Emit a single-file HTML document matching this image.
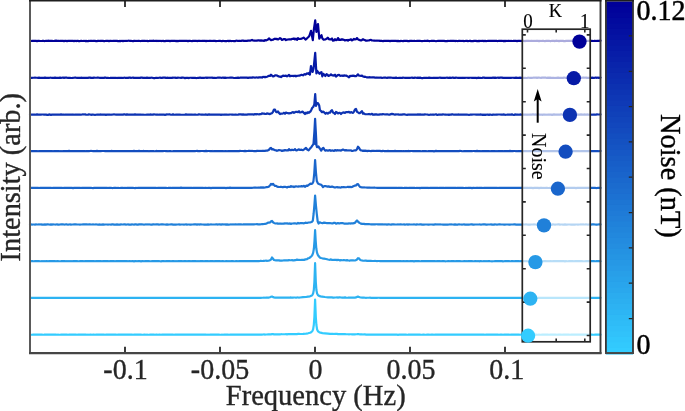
<!DOCTYPE html>
<html><head><meta charset="utf-8"><style>
html,body{margin:0;padding:0;background:#fff;width:685px;height:411px;overflow:hidden;font-family:"Liberation Serif",serif;}
svg{display:block;will-change:transform;}
</style></head><body><svg width="685" height="411" viewBox="0 0 685 411"><g fill="none" stroke-width="2.2" stroke-linejoin="round" stroke-linecap="round"><polyline points="30.0,40.95 31.0,40.99 32.0,40.92 33.0,40.84 34.0,40.90 35.0,40.83 36.0,40.96 37.0,41.11 38.0,40.89 39.0,40.88 40.0,41.01 41.0,40.99 42.0,40.96 43.0,40.84 44.0,40.95 45.0,41.03 46.0,40.79 47.0,40.89 48.0,40.72 49.0,40.80 50.0,40.73 51.0,40.92 52.0,40.80 53.0,40.98 54.0,40.97 55.0,40.93 56.0,40.65 57.0,40.89 58.0,40.94 59.0,40.96 60.0,40.77 61.0,40.89 62.0,40.83 63.0,40.85 64.0,41.08 65.0,40.85 66.0,40.95 67.0,41.06 68.0,40.88 69.0,40.94 70.0,40.96 71.0,40.96 72.0,40.80 73.0,40.96 74.0,41.11 75.0,40.76 76.0,41.05 77.0,40.96 78.0,40.87 79.0,41.19 80.0,41.04 81.0,40.81 82.0,40.96 83.0,41.02 84.0,40.93 85.0,41.03 86.0,40.94 87.0,41.03 88.0,41.12 89.0,40.87 90.0,40.97 91.0,40.89 92.0,40.97 93.0,40.81 94.0,40.88 95.0,40.93 96.0,41.06 97.0,41.09 98.0,40.79 99.0,40.85 100.0,41.03 101.0,40.71 102.0,40.89 103.0,40.94 104.0,41.10 105.0,41.03 106.0,40.91 107.0,40.91 108.0,40.92 109.0,41.13 110.0,40.90 111.0,40.91 112.0,40.99 113.0,40.94 114.0,40.93 115.0,40.82 116.0,40.95 117.0,40.90 118.0,41.09 119.0,41.03 120.0,40.95 121.0,41.03 122.0,40.91 123.0,41.08 124.0,40.95 125.0,41.02 126.0,40.79 127.0,40.99 128.0,40.75 129.0,40.71 130.0,40.91 131.0,40.84 132.0,40.97 133.0,41.22 134.0,40.85 135.0,40.87 136.0,40.97 137.0,41.01 138.0,40.93 139.0,40.92 140.0,41.03 141.0,41.01 142.0,40.83 143.0,40.94 144.0,40.95 145.0,40.82 146.0,40.98 147.0,40.85 148.0,41.07 149.0,40.97 150.0,40.96 151.0,40.88 152.0,40.94 153.0,40.71 154.0,40.81 155.0,40.99 156.0,40.69 157.0,41.05 158.0,40.74 159.0,41.04 160.0,40.85 161.0,41.04 162.0,40.97 163.0,40.76 164.0,41.10 165.0,41.12 166.0,40.94 167.0,40.92 168.0,40.93 169.0,40.83 170.0,41.08 171.0,40.88 172.0,40.94 173.0,40.85 174.0,40.87 175.0,40.80 176.0,41.10 177.0,40.93 178.0,41.07 179.0,40.95 180.0,40.87 181.0,40.91 182.0,40.88 183.0,40.95 184.0,40.90 185.0,40.91 186.0,40.78 187.0,40.85 188.0,41.15 189.0,40.87 190.0,40.82 191.0,40.99 192.0,41.12 193.0,40.77 194.0,40.92 195.0,40.87 196.0,40.74 197.0,41.04 198.0,40.95 199.0,40.96 200.0,40.86 201.0,41.00 202.0,40.88 203.0,40.93 204.0,40.81 205.0,40.80 206.0,41.11 207.0,40.89 208.0,40.98 209.0,40.94 210.0,40.89 211.0,40.88 212.0,41.02 213.0,40.91 214.0,40.93 215.0,40.95 216.0,41.09 217.0,41.02 218.0,40.99 219.0,40.87 220.0,40.77 221.0,41.05 222.0,41.05 223.0,40.92 224.0,41.00 225.0,41.03 226.0,41.03 227.0,41.04 228.0,40.87 229.0,41.11 230.0,40.77 231.0,41.03 232.0,40.98 233.0,41.02 234.0,41.14 235.0,41.09 236.0,40.76 237.0,40.68 238.0,41.00 239.0,40.76 240.0,40.88 241.0,40.98 242.0,40.65 243.0,40.58 244.0,40.88 245.0,40.84 246.0,40.79 247.0,40.81 248.0,40.66 249.0,40.52 250.0,40.64 251.0,40.33 252.0,39.91 253.0,40.52 254.0,40.60 255.0,40.71 256.0,40.49 257.0,40.53 258.0,40.45 259.0,40.45 260.0,40.62 261.0,40.40 262.0,40.59 263.0,40.55 264.0,40.87 265.0,40.06 266.0,40.48 267.0,40.05 268.0,39.55 269.0,38.33 270.0,39.33 271.0,40.07 272.0,39.88 273.0,39.77 274.0,39.11 275.0,38.65 276.0,39.12 277.0,38.83 278.0,39.47 279.0,38.91 280.0,38.11 281.0,38.78 282.0,39.96 283.0,39.59 284.0,39.05 285.0,39.13 286.0,40.13 287.0,39.60 288.0,39.48 289.0,39.35 290.0,39.28 291.0,39.45 292.0,38.87 293.0,39.02 294.0,38.40 295.0,39.46 296.0,38.63 297.0,39.85 298.0,38.13 299.0,38.91 300.0,39.00 301.8,38.60 303.6,37.60 305.5,39.60 307.0,38.30 308.2,37.20 309.3,36.00 311.0,30.80 312.8,40.10 313.8,30.00 315.2,20.30 316.4,32.00 318.0,24.00 319.3,38.60 320.3,37.00 321.5,35.20 322.4,38.50 323.6,39.60 325.5,39.40 327.0,38.50 327.8,37.70 329.0,39.20 330.0,39.40 331.0,39.42 332.0,38.50 333.0,40.70 334.0,40.53 335.0,39.24 336.0,40.09 337.0,39.86 338.0,38.04 339.0,39.85 340.0,39.70 341.0,39.82 342.0,39.22 343.0,39.70 344.0,39.78 345.0,40.49 346.0,40.10 347.0,39.97 348.0,40.66 349.0,39.77 350.0,39.85 351.0,39.26 352.0,40.42 353.0,39.73 354.0,38.92 355.0,39.45 356.0,39.19 357.0,38.05 358.0,39.33 359.0,39.93 360.0,40.16 361.0,40.52 362.0,39.96 363.0,39.25 364.0,39.77 365.0,40.15 366.0,40.77 367.0,40.59 368.0,40.52 369.0,40.39 370.0,40.04 371.0,39.86 372.0,40.45 373.0,40.49 374.0,40.62 375.0,40.67 376.0,40.76 377.0,40.51 378.0,40.74 379.0,40.67 380.0,40.94 381.0,40.71 382.0,40.91 383.0,41.06 384.0,40.81 385.0,40.78 386.0,40.89 387.0,40.88 388.0,40.75 389.0,40.95 390.0,41.15 391.0,40.87 392.0,40.88 393.0,40.78 394.0,40.95 395.0,40.76 396.0,40.78 397.0,41.08 398.0,40.81 399.0,41.06 400.0,41.11 401.0,40.96 402.0,41.00 403.0,41.17 404.0,40.91 405.0,40.87 406.0,40.77 407.0,40.94 408.0,41.12 409.0,41.06 410.0,40.83 411.0,40.84 412.0,40.88 413.0,40.98 414.0,40.92 415.0,40.97 416.0,40.98 417.0,40.91 418.0,40.94 419.0,40.97 420.0,40.94 421.0,41.01 422.0,41.17 423.0,41.02 424.0,40.95 425.0,40.75 426.0,40.99 427.0,40.71 428.0,40.78 429.0,41.05 430.0,41.03 431.0,40.93 432.0,40.74 433.0,40.90 434.0,40.87 435.0,41.03 436.0,41.22 437.0,40.97 438.0,40.86 439.0,40.81 440.0,40.94 441.0,40.93 442.0,40.81 443.0,40.96 444.0,40.81 445.0,41.08 446.0,41.08 447.0,41.08 448.0,40.89 449.0,41.01 450.0,40.93 451.0,40.90 452.0,40.91 453.0,40.79 454.0,40.78 455.0,41.04 456.0,40.93 457.0,40.98 458.0,41.07 459.0,40.74 460.0,40.86 461.0,40.97 462.0,41.00 463.0,40.90 464.0,41.07 465.0,40.97 466.0,40.80 467.0,40.84 468.0,41.05 469.0,41.01 470.0,40.72 471.0,41.11 472.0,41.02 473.0,41.11 474.0,40.90 475.0,40.91 476.0,40.81 477.0,41.25 478.0,40.93 479.0,41.14 480.0,40.87 481.0,40.97 482.0,40.75 483.0,40.90 484.0,41.07 485.0,40.80 486.0,41.08 487.0,40.99 488.0,40.82 489.0,40.89 490.0,40.89 491.0,40.94 492.0,40.89 493.0,40.85 494.0,40.91 495.0,40.83 496.0,40.79 497.0,40.94 498.0,41.06 499.0,40.77 500.0,40.95 501.0,40.87 502.0,40.83 503.0,41.05 504.0,40.89 505.0,41.13 506.0,40.86 507.0,41.00 508.0,40.92 509.0,40.86 510.0,41.02 511.0,40.93 512.0,41.02 513.0,40.94 514.0,40.82 515.0,40.94 516.0,40.96 517.0,41.06 518.0,40.84 519.0,40.94 520.0,40.74 521.0,41.03 522.0,40.82 523.0,40.73 524.0,40.94 525.0,41.08 526.0,40.77 527.0,40.82 528.0,40.86 529.0,40.81 530.0,41.00 531.0,40.85 532.0,40.86 533.0,41.02 534.0,40.86 535.0,41.00 536.0,40.83 537.0,40.80 538.0,40.73 539.0,41.17 540.0,40.91 541.0,40.98 542.0,40.95 543.0,40.97 544.0,40.96 545.0,41.18 546.0,40.83 547.0,40.76 548.0,40.83 549.0,40.79 550.0,41.04 551.0,41.05 552.0,40.83 553.0,40.78 554.0,40.91 555.0,41.12 556.0,40.61 557.0,41.01 558.0,40.82 559.0,41.07 560.0,40.82 561.0,40.92 562.0,40.77 563.0,40.83 564.0,41.12 565.0,41.05 566.0,40.90 567.0,40.85 568.0,40.72 569.0,40.90 570.0,40.95 571.0,40.94 572.0,40.94 573.0,40.82 574.0,40.94 575.0,40.95 576.0,41.10 577.0,41.17 578.0,40.93 579.0,40.86 580.0,40.94 581.0,40.88 582.0,40.86 583.0,40.94 584.0,40.82 585.0,41.02 586.0,40.94 587.0,40.98 588.0,40.93 589.0,40.86 590.0,40.84 591.0,40.92 592.0,40.88 593.0,40.98 594.0,40.95 595.0,40.79 596.0,40.96 597.0,40.79 598.0,40.88 599.0,40.91 600.5,40.70" stroke="#000099"/><polyline points="30.0,77.81 31.0,77.82 32.0,77.78 33.0,77.75 34.0,77.76 35.0,77.68 36.0,77.77 37.0,77.73 38.0,77.81 39.0,77.66 40.0,77.83 41.0,77.82 42.0,77.78 43.0,77.75 44.0,77.87 45.0,77.60 46.0,77.86 47.0,77.83 48.0,77.83 49.0,77.85 50.0,77.72 51.0,77.77 52.0,77.88 53.0,77.85 54.0,77.82 55.0,77.62 56.0,77.86 57.0,77.94 58.0,77.92 59.0,77.83 60.0,77.61 61.0,77.91 62.0,77.78 63.0,77.50 64.0,77.85 65.0,77.62 66.0,77.64 67.0,77.72 68.0,77.95 69.0,77.76 70.0,77.83 71.0,78.01 72.0,77.99 73.0,77.79 74.0,77.77 75.0,77.65 76.0,77.72 77.0,77.85 78.0,77.85 79.0,77.81 80.0,77.92 81.0,77.71 82.0,77.79 83.0,77.89 84.0,77.87 85.0,77.93 86.0,77.85 87.0,77.76 88.0,77.84 89.0,77.68 90.0,77.60 91.0,77.87 92.0,77.79 93.0,77.84 94.0,77.60 95.0,77.76 96.0,77.73 97.0,77.70 98.0,77.53 99.0,77.76 100.0,77.91 101.0,77.85 102.0,77.73 103.0,77.80 104.0,77.89 105.0,77.47 106.0,77.78 107.0,77.86 108.0,77.88 109.0,78.00 110.0,77.94 111.0,77.84 112.0,77.84 113.0,77.89 114.0,77.74 115.0,77.79 116.0,77.91 117.0,78.03 118.0,77.78 119.0,77.79 120.0,77.82 121.0,77.96 122.0,77.80 123.0,77.98 124.0,77.68 125.0,77.78 126.0,77.78 127.0,77.89 128.0,77.93 129.0,77.62 130.0,77.69 131.0,77.84 132.0,77.72 133.0,77.62 134.0,77.92 135.0,77.86 136.0,77.86 137.0,77.74 138.0,77.92 139.0,77.77 140.0,77.93 141.0,77.69 142.0,77.70 143.0,77.82 144.0,77.72 145.0,77.88 146.0,77.83 147.0,77.69 148.0,77.81 149.0,77.76 150.0,77.91 151.0,77.72 152.0,77.75 153.0,77.94 154.0,78.07 155.0,78.04 156.0,77.81 157.0,77.83 158.0,77.98 159.0,77.78 160.0,77.68 161.0,77.81 162.0,77.85 163.0,77.70 164.0,77.60 165.0,77.63 166.0,77.88 167.0,77.71 168.0,77.78 169.0,77.82 170.0,77.87 171.0,77.76 172.0,77.86 173.0,77.69 174.0,77.76 175.0,77.68 176.0,77.94 177.0,77.80 178.0,77.71 179.0,77.76 180.0,77.77 181.0,77.88 182.0,77.61 183.0,77.67 184.0,77.75 185.0,78.10 186.0,77.91 187.0,77.79 188.0,77.88 189.0,78.05 190.0,77.77 191.0,77.76 192.0,77.94 193.0,77.86 194.0,77.88 195.0,77.74 196.0,78.03 197.0,78.00 198.0,77.87 199.0,77.88 200.0,77.56 201.0,77.87 202.0,77.77 203.0,77.85 204.0,77.88 205.0,77.76 206.0,77.59 207.0,77.84 208.0,77.71 209.0,77.76 210.0,77.72 211.0,77.75 212.0,77.52 213.0,77.94 214.0,77.82 215.0,77.93 216.0,78.03 217.0,77.79 218.0,77.57 219.0,77.68 220.0,77.64 221.0,77.73 222.0,77.80 223.0,77.54 224.0,77.83 225.0,77.60 226.0,77.82 227.0,77.76 228.0,77.74 229.0,77.76 230.0,77.70 231.0,77.69 232.0,77.56 233.0,77.76 234.0,77.98 235.0,78.00 236.0,77.91 237.0,77.83 238.0,77.65 239.0,77.91 240.0,77.71 241.0,77.70 242.0,77.66 243.0,77.70 244.0,77.63 245.0,77.66 246.0,77.51 247.0,77.60 248.0,77.95 249.0,77.61 250.0,77.57 251.0,77.66 252.0,77.67 253.0,77.38 254.0,77.49 255.0,77.65 256.0,77.52 257.0,77.47 258.0,77.69 259.0,77.28 260.0,77.38 261.0,77.23 262.0,77.57 263.0,76.84 264.0,77.03 265.0,76.96 266.0,77.06 267.0,76.67 268.0,76.23 269.0,75.77 270.0,76.00 271.0,74.77 272.0,75.63 273.0,76.50 274.0,76.11 275.0,75.42 276.0,75.34 277.0,75.53 278.0,76.13 279.0,76.56 280.0,76.55 281.0,77.02 282.0,76.28 283.0,75.67 284.0,75.93 285.0,75.80 286.0,75.59 287.0,76.31 288.0,75.72 289.0,74.96 290.0,76.30 291.0,75.81 292.0,76.01 293.0,75.82 294.0,76.08 295.0,75.67 296.0,76.37 297.0,75.81 298.0,75.75 299.0,75.72 300.0,75.40 301.5,74.80 303.0,75.30 304.5,74.20 305.5,74.60 307.0,73.40 308.3,73.80 309.0,73.00 309.9,74.60 311.0,66.00 312.6,72.00 313.6,68.50 315.2,52.80 316.4,73.40 317.2,70.80 318.4,72.60 319.5,73.80 320.5,72.60 321.5,72.20 322.3,76.30 323.3,73.80 324.2,74.50 325.4,76.00 326.5,74.20 327.5,74.80 328.5,76.00 330.0,75.30 331.0,74.36 332.0,75.28 333.0,75.27 334.0,75.62 335.0,74.71 336.0,76.58 337.0,75.72 338.0,75.03 339.0,74.83 340.0,75.67 341.0,75.81 342.0,75.53 343.0,75.91 344.0,75.38 345.0,75.59 346.0,75.48 347.0,76.07 348.0,76.61 349.0,77.28 350.0,75.93 351.0,76.09 352.0,75.71 353.0,75.80 354.0,75.68 355.0,76.16 356.0,76.22 357.0,75.37 358.0,74.34 359.0,75.58 360.0,75.77 361.0,75.86 362.0,75.65 363.0,76.47 364.0,76.82 365.0,76.66 366.0,77.04 367.0,77.36 368.0,77.36 369.0,77.29 370.0,77.18 371.0,77.49 372.0,77.31 373.0,77.24 374.0,77.34 375.0,77.72 376.0,77.55 377.0,77.71 378.0,77.49 379.0,77.71 380.0,77.51 381.0,77.59 382.0,77.97 383.0,77.75 384.0,77.59 385.0,77.65 386.0,77.72 387.0,77.85 388.0,77.63 389.0,77.48 390.0,77.68 391.0,77.72 392.0,77.74 393.0,77.90 394.0,77.78 395.0,77.85 396.0,77.62 397.0,77.86 398.0,78.02 399.0,77.86 400.0,77.80 401.0,77.79 402.0,77.99 403.0,77.66 404.0,77.77 405.0,77.84 406.0,77.87 407.0,77.73 408.0,77.82 409.0,77.75 410.0,77.80 411.0,77.77 412.0,77.65 413.0,77.79 414.0,77.90 415.0,77.68 416.0,77.77 417.0,77.87 418.0,77.67 419.0,77.82 420.0,77.67 421.0,77.93 422.0,78.07 423.0,78.04 424.0,77.77 425.0,77.89 426.0,77.81 427.0,77.81 428.0,77.98 429.0,77.64 430.0,77.92 431.0,77.79 432.0,77.97 433.0,77.82 434.0,77.72 435.0,77.83 436.0,77.89 437.0,77.80 438.0,77.86 439.0,77.74 440.0,77.54 441.0,77.91 442.0,77.88 443.0,77.82 444.0,77.81 445.0,77.92 446.0,77.74 447.0,77.71 448.0,77.78 449.0,77.94 450.0,77.63 451.0,77.94 452.0,77.72 453.0,77.67 454.0,77.95 455.0,77.79 456.0,77.64 457.0,77.76 458.0,77.91 459.0,77.94 460.0,77.75 461.0,77.85 462.0,77.89 463.0,77.72 464.0,77.84 465.0,77.80 466.0,77.74 467.0,77.74 468.0,77.81 469.0,77.80 470.0,77.73 471.0,77.75 472.0,77.93 473.0,77.83 474.0,77.91 475.0,77.94 476.0,77.87 477.0,78.07 478.0,77.70 479.0,77.90 480.0,77.76 481.0,78.02 482.0,78.00 483.0,77.57 484.0,77.68 485.0,77.88 486.0,77.89 487.0,77.89 488.0,77.79 489.0,77.85 490.0,77.88 491.0,77.79 492.0,77.92 493.0,77.53 494.0,77.88 495.0,77.68 496.0,77.91 497.0,77.77 498.0,77.69 499.0,77.84 500.0,77.69 501.0,77.69 502.0,77.61 503.0,77.80 504.0,77.86 505.0,77.92 506.0,77.78 507.0,77.93 508.0,77.80 509.0,77.79 510.0,77.87 511.0,77.93 512.0,77.76 513.0,77.77 514.0,77.78 515.0,77.81 516.0,77.69 517.0,77.92 518.0,77.75 519.0,77.86 520.0,77.70 521.0,77.84 522.0,77.85 523.0,77.75 524.0,78.04 525.0,77.84 526.0,78.01 527.0,77.91 528.0,77.72 529.0,77.75 530.0,77.85 531.0,77.81 532.0,77.81 533.0,77.77 534.0,77.58 535.0,77.77 536.0,77.53 537.0,77.84 538.0,77.71 539.0,77.71 540.0,77.77 541.0,77.83 542.0,77.63 543.0,77.59 544.0,77.67 545.0,77.55 546.0,77.68 547.0,77.99 548.0,77.67 549.0,77.88 550.0,77.64 551.0,77.84 552.0,77.76 553.0,77.79 554.0,77.87 555.0,78.01 556.0,77.82 557.0,77.81 558.0,77.68 559.0,77.87 560.0,77.77 561.0,77.90 562.0,77.79 563.0,78.01 564.0,77.56 565.0,77.76 566.0,77.91 567.0,77.76 568.0,77.70 569.0,77.77 570.0,77.63 571.0,77.81 572.0,78.09 573.0,77.94 574.0,77.67 575.0,77.70 576.0,77.75 577.0,77.92 578.0,77.70 579.0,77.72 580.0,77.91 581.0,77.90 582.0,77.75 583.0,77.67 584.0,77.61 585.0,77.72 586.0,77.53 587.0,77.89 588.0,77.72 589.0,77.86 590.0,78.02 591.0,77.94 592.0,77.66 593.0,77.90 594.0,77.94 595.0,77.71 596.0,77.69 597.0,77.79 598.0,77.61 599.0,77.98 600.5,77.51" stroke="#061aa6"/><polyline points="30.0,114.47 31.0,114.57 32.0,114.57 33.0,114.62 34.0,114.63 35.0,114.57 36.0,114.74 37.0,114.34 38.0,114.60 39.0,114.51 40.0,114.62 41.0,114.63 42.0,114.49 43.0,114.52 44.0,114.69 45.0,114.64 46.0,114.52 47.0,114.84 48.0,114.88 49.0,114.42 50.0,114.64 51.0,114.90 52.0,114.69 53.0,114.63 54.0,114.57 55.0,114.53 56.0,114.57 57.0,114.53 58.0,114.69 59.0,114.55 60.0,114.55 61.0,114.46 62.0,114.59 63.0,114.49 64.0,114.58 65.0,114.72 66.0,114.64 67.0,114.66 68.0,114.64 69.0,114.61 70.0,114.58 71.0,114.56 72.0,114.69 73.0,114.47 74.0,114.76 75.0,114.60 76.0,114.51 77.0,114.54 78.0,114.52 79.0,114.62 80.0,114.51 81.0,114.74 82.0,114.51 83.0,114.33 84.0,114.51 85.0,114.36 86.0,114.59 87.0,114.73 88.0,114.68 89.0,114.44 90.0,114.51 91.0,114.81 92.0,114.64 93.0,114.60 94.0,114.73 95.0,114.89 96.0,114.76 97.0,114.62 98.0,114.64 99.0,114.67 100.0,114.53 101.0,114.47 102.0,114.61 103.0,114.49 104.0,114.59 105.0,114.61 106.0,114.88 107.0,114.50 108.0,114.58 109.0,114.58 110.0,114.65 111.0,114.73 112.0,114.54 113.0,114.50 114.0,114.40 115.0,114.49 116.0,114.66 117.0,114.60 118.0,114.48 119.0,114.55 120.0,114.60 121.0,114.66 122.0,114.53 123.0,114.57 124.0,114.38 125.0,114.46 126.0,114.79 127.0,114.34 128.0,114.56 129.0,114.63 130.0,114.55 131.0,114.50 132.0,114.59 133.0,114.60 134.0,114.59 135.0,114.37 136.0,114.58 137.0,114.50 138.0,114.53 139.0,114.63 140.0,114.68 141.0,114.71 142.0,114.54 143.0,114.71 144.0,114.74 145.0,114.74 146.0,114.77 147.0,114.58 148.0,114.58 149.0,114.70 150.0,114.44 151.0,114.62 152.0,114.54 153.0,114.55 154.0,114.39 155.0,114.49 156.0,114.60 157.0,114.71 158.0,114.72 159.0,114.59 160.0,114.58 161.0,114.50 162.0,114.65 163.0,114.57 164.0,114.67 165.0,114.81 166.0,114.60 167.0,114.42 168.0,114.50 169.0,114.42 170.0,114.46 171.0,114.76 172.0,114.63 173.0,114.42 174.0,114.68 175.0,114.75 176.0,114.56 177.0,114.52 178.0,114.56 179.0,114.63 180.0,114.68 181.0,114.74 182.0,114.74 183.0,114.74 184.0,114.76 185.0,114.68 186.0,114.41 187.0,114.58 188.0,114.64 189.0,114.55 190.0,114.71 191.0,114.56 192.0,114.49 193.0,114.77 194.0,114.68 195.0,114.62 196.0,114.71 197.0,114.73 198.0,114.64 199.0,114.30 200.0,114.52 201.0,114.54 202.0,114.48 203.0,114.62 204.0,114.74 205.0,114.54 206.0,114.46 207.0,114.84 208.0,114.54 209.0,114.45 210.0,114.62 211.0,114.65 212.0,114.51 213.0,114.69 214.0,114.54 215.0,114.48 216.0,114.61 217.0,114.68 218.0,114.51 219.0,114.63 220.0,114.58 221.0,114.93 222.0,114.50 223.0,114.75 224.0,114.58 225.0,114.57 226.0,114.67 227.0,114.69 228.0,114.73 229.0,114.61 230.0,114.50 231.0,114.50 232.0,114.63 233.0,114.63 234.0,114.73 235.0,114.61 236.0,114.68 237.0,114.73 238.0,114.56 239.0,114.34 240.0,114.38 241.0,114.33 242.0,114.72 243.0,114.39 244.0,114.66 245.0,114.56 246.0,114.70 247.0,114.60 248.0,114.43 249.0,114.41 250.0,114.43 251.0,114.43 252.0,114.31 253.0,114.36 254.0,114.60 255.0,114.06 256.0,114.34 257.0,114.12 258.0,114.27 259.0,114.35 260.0,114.13 261.0,114.17 262.0,113.45 263.0,113.54 264.0,113.56 265.0,114.02 266.0,113.96 267.0,113.31 268.0,113.67 269.0,113.83 270.0,114.06 271.0,113.56 272.0,113.19 273.0,111.77 274.0,109.53 275.0,109.57 276.0,111.86 277.0,112.27 278.0,111.45 279.0,113.02 280.0,114.10 281.0,113.48 282.0,113.74 283.0,113.45 284.0,112.77 285.0,113.77 286.0,112.55 287.0,112.98 288.0,113.17 289.0,113.44 290.0,113.16 291.0,113.10 292.0,112.41 293.0,112.05 294.0,112.79 295.0,112.27 296.0,111.83 297.0,111.79 298.0,112.24 299.0,111.28 300.0,112.50 301.2,112.20 302.5,111.60 303.6,112.60 305.0,114.00 306.0,112.60 307.0,113.40 308.0,112.10 309.0,112.80 310.5,111.40 311.5,109.50 312.2,107.80 313.2,107.00 314.3,104.50 315.2,94.00 316.0,106.00 317.0,103.00 318.2,103.40 319.2,105.50 319.9,110.00 321.0,111.00 322.0,112.20 323.2,111.50 324.2,112.40 325.5,113.80 326.5,112.80 327.8,113.60 329.0,112.60 330.0,112.70 331.0,110.90 332.0,110.27 333.0,112.47 334.0,112.91 335.0,114.01 336.0,111.96 337.0,112.52 338.0,113.48 339.0,112.89 340.0,112.87 341.0,113.96 342.0,112.94 343.0,112.55 344.0,112.43 345.0,112.91 346.0,112.15 347.0,112.09 348.0,112.19 349.0,111.94 350.0,112.74 351.0,112.06 352.0,112.54 353.0,112.92 354.0,111.59 355.0,109.53 356.0,108.97 357.0,111.85 358.0,112.37 359.0,113.09 360.0,113.07 361.0,112.00 362.0,111.18 363.0,113.73 364.0,113.41 365.0,114.08 366.0,114.25 367.0,114.27 368.0,114.16 369.0,113.96 370.0,114.32 371.0,114.12 372.0,113.84 373.0,114.77 374.0,114.44 375.0,114.63 376.0,114.22 377.0,114.60 378.0,114.63 379.0,114.64 380.0,114.42 381.0,114.27 382.0,114.43 383.0,114.16 384.0,114.24 385.0,114.49 386.0,114.35 387.0,114.46 388.0,114.45 389.0,114.69 390.0,114.54 391.0,114.13 392.0,113.89 393.0,114.05 394.0,114.35 395.0,114.59 396.0,114.36 397.0,114.50 398.0,114.38 399.0,114.57 400.0,114.76 401.0,114.47 402.0,114.60 403.0,114.46 404.0,114.44 405.0,114.43 406.0,114.76 407.0,114.87 408.0,114.64 409.0,114.50 410.0,114.67 411.0,114.55 412.0,114.69 413.0,114.62 414.0,114.62 415.0,114.66 416.0,114.52 417.0,114.54 418.0,114.39 419.0,114.54 420.0,114.42 421.0,114.58 422.0,114.48 423.0,114.61 424.0,114.65 425.0,114.43 426.0,114.50 427.0,114.48 428.0,114.69 429.0,114.80 430.0,114.70 431.0,114.55 432.0,114.77 433.0,114.42 434.0,114.78 435.0,114.52 436.0,114.26 437.0,114.92 438.0,114.79 439.0,114.47 440.0,114.62 441.0,114.57 442.0,114.61 443.0,114.42 444.0,114.52 445.0,114.65 446.0,114.62 447.0,114.74 448.0,114.61 449.0,114.88 450.0,114.51 451.0,114.63 452.0,114.37 453.0,114.45 454.0,114.76 455.0,114.49 456.0,114.66 457.0,114.59 458.0,114.47 459.0,114.56 460.0,114.54 461.0,114.54 462.0,114.69 463.0,114.68 464.0,114.53 465.0,114.49 466.0,114.63 467.0,114.59 468.0,114.72 469.0,114.92 470.0,114.70 471.0,114.59 472.0,114.58 473.0,114.50 474.0,114.49 475.0,114.48 476.0,114.55 477.0,114.55 478.0,114.69 479.0,114.55 480.0,114.58 481.0,114.45 482.0,114.80 483.0,114.66 484.0,114.81 485.0,114.69 486.0,114.78 487.0,114.57 488.0,114.69 489.0,114.92 490.0,114.45 491.0,114.74 492.0,114.80 493.0,114.65 494.0,114.69 495.0,114.75 496.0,114.52 497.0,114.65 498.0,114.49 499.0,114.52 500.0,114.52 501.0,114.58 502.0,114.62 503.0,114.65 504.0,114.43 505.0,114.84 506.0,114.74 507.0,114.69 508.0,114.56 509.0,114.59 510.0,114.67 511.0,114.65 512.0,114.39 513.0,114.69 514.0,114.96 515.0,114.37 516.0,114.72 517.0,114.64 518.0,114.59 519.0,114.77 520.0,114.45 521.0,114.62 522.0,114.78 523.0,114.58 524.0,114.55 525.0,114.61 526.0,114.54 527.0,114.79 528.0,114.49 529.0,114.71 530.0,114.45 531.0,114.68 532.0,114.59 533.0,114.28 534.0,114.60 535.0,114.47 536.0,114.54 537.0,114.79 538.0,114.46 539.0,114.47 540.0,114.78 541.0,114.61 542.0,114.79 543.0,114.64 544.0,114.49 545.0,114.59 546.0,114.75 547.0,114.72 548.0,114.60 549.0,114.61 550.0,114.59 551.0,114.53 552.0,114.84 553.0,114.60 554.0,114.46 555.0,114.54 556.0,114.69 557.0,114.68 558.0,114.58 559.0,114.52 560.0,114.60 561.0,114.39 562.0,114.44 563.0,114.70 564.0,114.54 565.0,114.65 566.0,114.75 567.0,114.68 568.0,114.60 569.0,114.86 570.0,114.68 571.0,114.56 572.0,114.69 573.0,114.65 574.0,114.49 575.0,114.61 576.0,114.58 577.0,114.36 578.0,114.58 579.0,114.56 580.0,114.55 581.0,114.40 582.0,114.56 583.0,114.59 584.0,114.61 585.0,114.46 586.0,114.68 587.0,114.45 588.0,114.57 589.0,114.76 590.0,114.51 591.0,114.54 592.0,114.73 593.0,114.55 594.0,114.56 595.0,114.63 596.0,114.73 597.0,114.33 598.0,114.50 599.0,114.48 600.5,114.47" stroke="#0d33b2"/><polyline points="30.0,151.03 31.0,151.03 32.0,151.12 33.0,151.03 34.0,151.11 35.0,151.13 36.0,151.04 37.0,151.11 38.0,151.23 39.0,151.13 40.0,151.05 41.0,151.09 42.0,151.02 43.0,151.12 44.0,151.17 45.0,151.03 46.0,151.08 47.0,151.19 48.0,151.06 49.0,151.12 50.0,151.02 51.0,151.03 52.0,151.06 53.0,151.27 54.0,151.07 55.0,151.06 56.0,151.05 57.0,151.09 58.0,151.15 59.0,151.11 60.0,151.26 61.0,151.12 62.0,151.22 63.0,151.12 64.0,151.15 65.0,150.98 66.0,151.09 67.0,151.09 68.0,151.08 69.0,150.93 70.0,151.17 71.0,151.07 72.0,151.06 73.0,151.08 74.0,151.08 75.0,151.13 76.0,151.00 77.0,151.03 78.0,151.12 79.0,151.11 80.0,151.07 81.0,151.05 82.0,151.03 83.0,151.10 84.0,151.19 85.0,151.02 86.0,151.22 87.0,151.17 88.0,151.06 89.0,151.16 90.0,150.98 91.0,150.96 92.0,151.00 93.0,151.07 94.0,151.07 95.0,151.06 96.0,151.11 97.0,150.93 98.0,151.14 99.0,150.99 100.0,151.05 101.0,151.07 102.0,151.01 103.0,150.99 104.0,151.02 105.0,151.10 106.0,151.15 107.0,151.14 108.0,151.02 109.0,151.04 110.0,151.03 111.0,151.14 112.0,150.94 113.0,151.20 114.0,151.06 115.0,151.04 116.0,151.13 117.0,151.18 118.0,151.13 119.0,151.18 120.0,151.11 121.0,151.20 122.0,151.20 123.0,151.09 124.0,151.21 125.0,151.11 126.0,151.11 127.0,151.03 128.0,151.08 129.0,151.16 130.0,150.99 131.0,151.15 132.0,151.13 133.0,151.12 134.0,150.92 135.0,151.09 136.0,151.15 137.0,151.04 138.0,151.11 139.0,150.91 140.0,151.15 141.0,151.05 142.0,151.17 143.0,150.95 144.0,151.15 145.0,151.08 146.0,151.16 147.0,151.03 148.0,151.05 149.0,151.28 150.0,151.03 151.0,151.04 152.0,151.08 153.0,151.02 154.0,151.19 155.0,151.24 156.0,151.04 157.0,150.96 158.0,151.19 159.0,151.19 160.0,151.17 161.0,151.19 162.0,151.03 163.0,151.09 164.0,150.99 165.0,150.99 166.0,151.18 167.0,151.05 168.0,151.28 169.0,151.11 170.0,151.05 171.0,151.16 172.0,151.24 173.0,151.14 174.0,151.00 175.0,151.13 176.0,151.21 177.0,151.06 178.0,151.04 179.0,151.18 180.0,151.11 181.0,151.01 182.0,151.07 183.0,151.04 184.0,151.12 185.0,151.11 186.0,151.19 187.0,151.16 188.0,150.97 189.0,151.13 190.0,151.17 191.0,151.14 192.0,151.18 193.0,151.05 194.0,151.02 195.0,151.17 196.0,151.01 197.0,150.93 198.0,151.18 199.0,151.04 200.0,151.07 201.0,150.99 202.0,150.99 203.0,151.01 204.0,151.07 205.0,151.13 206.0,150.91 207.0,151.16 208.0,151.00 209.0,151.01 210.0,151.15 211.0,151.09 212.0,150.97 213.0,151.24 214.0,151.03 215.0,151.12 216.0,151.11 217.0,151.21 218.0,151.06 219.0,151.18 220.0,151.03 221.0,151.18 222.0,151.03 223.0,151.06 224.0,151.24 225.0,151.12 226.0,151.10 227.0,151.27 228.0,151.12 229.0,151.02 230.0,151.14 231.0,150.99 232.0,151.17 233.0,151.18 234.0,151.03 235.0,151.02 236.0,151.09 237.0,151.07 238.0,150.98 239.0,151.11 240.0,150.88 241.0,151.02 242.0,151.02 243.0,151.02 244.0,151.07 245.0,150.93 246.0,151.08 247.0,151.01 248.0,150.96 249.0,150.88 250.0,150.89 251.0,151.03 252.0,150.89 253.0,150.98 254.0,151.08 255.0,151.06 256.0,151.11 257.0,150.89 258.0,150.79 259.0,151.02 260.0,150.91 261.0,151.00 262.0,150.83 263.0,150.96 264.0,150.88 265.0,150.82 266.0,150.71 267.0,150.58 268.0,150.33 269.0,149.78 270.0,148.51 271.0,147.79 272.0,149.44 273.0,149.04 274.0,149.77 275.0,150.13 276.0,150.29 277.0,150.89 278.0,150.37 279.0,150.13 280.0,150.26 281.0,150.34 282.0,151.01 283.0,150.44 284.0,150.63 285.0,150.00 286.0,150.37 287.0,150.37 288.0,150.51 289.0,149.21 290.0,150.06 291.0,150.16 292.0,149.70 293.0,150.10 294.0,149.99 295.0,149.09 296.0,150.33 297.0,150.29 298.0,149.82 299.0,149.37 300.0,150.00 301.5,149.70 303.0,150.20 304.5,149.20 306.0,147.90 307.2,149.50 308.6,150.40 310.0,148.60 311.3,147.20 312.5,145.40 313.5,143.80 314.4,131.50 315.1,118.80 315.8,131.50 316.5,145.50 317.0,147.20 318.4,146.50 319.8,148.50 321.2,150.60 322.3,148.60 323.3,147.80 324.3,149.40 325.2,150.70 326.5,150.20 328.0,150.60 330.0,150.20 331.0,150.90 332.0,150.34 333.0,150.70 334.0,150.87 335.0,150.05 336.0,150.63 337.0,150.20 338.0,150.29 339.0,150.29 340.0,150.31 341.0,150.65 342.0,150.07 343.0,149.59 344.0,149.98 345.0,150.43 346.0,150.15 347.0,150.32 348.0,150.49 349.0,150.37 350.0,150.50 351.0,150.38 352.0,151.01 353.0,150.81 354.0,150.53 355.0,150.28 356.0,150.39 357.0,149.03 358.0,146.76 359.0,147.79 360.0,149.60 361.0,150.45 362.0,150.49 363.0,150.96 364.0,150.59 365.0,150.87 366.0,150.67 367.0,151.09 368.0,150.83 369.0,150.88 370.0,151.02 371.0,151.08 372.0,150.81 373.0,150.91 374.0,150.81 375.0,150.99 376.0,150.97 377.0,150.96 378.0,150.93 379.0,150.97 380.0,150.95 381.0,151.07 382.0,151.17 383.0,150.86 384.0,151.03 385.0,151.01 386.0,151.09 387.0,150.97 388.0,151.05 389.0,150.97 390.0,151.12 391.0,151.08 392.0,151.06 393.0,151.10 394.0,151.06 395.0,150.95 396.0,151.13 397.0,151.11 398.0,151.07 399.0,151.17 400.0,151.19 401.0,151.00 402.0,151.03 403.0,151.21 404.0,151.21 405.0,151.03 406.0,151.00 407.0,151.04 408.0,151.05 409.0,150.97 410.0,151.10 411.0,150.99 412.0,151.00 413.0,151.17 414.0,151.04 415.0,151.09 416.0,151.15 417.0,151.16 418.0,151.07 419.0,151.10 420.0,151.03 421.0,151.24 422.0,151.15 423.0,151.01 424.0,151.10 425.0,151.16 426.0,151.14 427.0,151.24 428.0,151.21 429.0,151.06 430.0,151.09 431.0,151.00 432.0,151.12 433.0,151.11 434.0,151.31 435.0,151.11 436.0,150.93 437.0,151.05 438.0,151.11 439.0,151.00 440.0,151.03 441.0,151.07 442.0,151.13 443.0,151.09 444.0,151.03 445.0,151.16 446.0,151.06 447.0,151.06 448.0,150.99 449.0,151.04 450.0,151.15 451.0,150.97 452.0,151.09 453.0,151.16 454.0,151.07 455.0,151.12 456.0,151.01 457.0,151.20 458.0,151.19 459.0,151.12 460.0,150.96 461.0,151.02 462.0,151.18 463.0,151.24 464.0,151.12 465.0,151.20 466.0,151.05 467.0,151.08 468.0,151.10 469.0,151.13 470.0,150.98 471.0,151.17 472.0,151.21 473.0,151.01 474.0,150.99 475.0,151.13 476.0,151.05 477.0,150.91 478.0,151.16 479.0,151.11 480.0,151.06 481.0,151.27 482.0,151.11 483.0,151.04 484.0,151.11 485.0,151.02 486.0,151.04 487.0,151.13 488.0,151.06 489.0,151.06 490.0,151.23 491.0,151.17 492.0,151.16 493.0,151.14 494.0,151.14 495.0,151.22 496.0,151.10 497.0,151.25 498.0,151.02 499.0,151.08 500.0,150.99 501.0,151.07 502.0,151.14 503.0,151.22 504.0,151.05 505.0,151.10 506.0,151.07 507.0,151.04 508.0,151.00 509.0,151.10 510.0,150.96 511.0,151.11 512.0,151.10 513.0,151.05 514.0,151.02 515.0,150.99 516.0,151.25 517.0,150.99 518.0,151.22 519.0,151.15 520.0,151.07 521.0,151.01 522.0,151.18 523.0,151.24 524.0,151.02 525.0,151.08 526.0,151.18 527.0,151.13 528.0,151.26 529.0,151.05 530.0,151.14 531.0,151.00 532.0,151.27 533.0,151.04 534.0,150.92 535.0,151.09 536.0,151.09 537.0,151.25 538.0,151.07 539.0,151.10 540.0,151.15 541.0,151.23 542.0,151.09 543.0,151.18 544.0,151.14 545.0,151.08 546.0,151.11 547.0,151.10 548.0,151.03 549.0,151.20 550.0,150.99 551.0,151.19 552.0,151.18 553.0,151.09 554.0,151.04 555.0,151.08 556.0,151.14 557.0,151.16 558.0,151.12 559.0,151.18 560.0,151.06 561.0,151.12 562.0,150.97 563.0,151.16 564.0,151.11 565.0,151.07 566.0,151.19 567.0,151.16 568.0,150.87 569.0,151.10 570.0,150.98 571.0,151.19 572.0,151.30 573.0,151.06 574.0,151.11 575.0,151.08 576.0,151.13 577.0,151.15 578.0,151.20 579.0,151.02 580.0,151.23 581.0,151.03 582.0,151.12 583.0,151.19 584.0,151.16 585.0,151.02 586.0,151.04 587.0,151.06 588.0,151.10 589.0,151.19 590.0,151.00 591.0,151.14 592.0,151.15 593.0,151.14 594.0,151.14 595.0,151.22 596.0,151.14 597.0,151.17 598.0,151.14 599.0,151.24 600.5,150.95" stroke="#134dbf"/><polyline points="30.0,187.98 31.0,187.88 32.0,187.88 33.0,187.84 34.0,187.78 35.0,187.88 36.0,187.86 37.0,187.93 38.0,187.81 39.0,187.99 40.0,187.92 41.0,187.88 42.0,187.85 43.0,187.85 44.0,187.83 45.0,187.86 46.0,187.90 47.0,187.89 48.0,187.81 49.0,187.88 50.0,187.84 51.0,187.91 52.0,188.02 53.0,187.94 54.0,187.88 55.0,187.80 56.0,187.81 57.0,187.79 58.0,187.95 59.0,187.85 60.0,187.90 61.0,187.86 62.0,187.91 63.0,187.99 64.0,187.86 65.0,187.88 66.0,187.85 67.0,187.96 68.0,187.83 69.0,187.83 70.0,187.81 71.0,187.81 72.0,187.93 73.0,188.06 74.0,187.84 75.0,187.96 76.0,187.92 77.0,187.83 78.0,187.88 79.0,187.88 80.0,187.86 81.0,188.02 82.0,187.78 83.0,187.92 84.0,187.92 85.0,187.86 86.0,187.91 87.0,187.96 88.0,187.91 89.0,187.93 90.0,187.94 91.0,187.77 92.0,187.99 93.0,188.05 94.0,187.96 95.0,187.96 96.0,187.81 97.0,187.89 98.0,187.85 99.0,187.86 100.0,187.96 101.0,187.85 102.0,187.89 103.0,187.78 104.0,187.89 105.0,187.91 106.0,187.85 107.0,187.85 108.0,188.02 109.0,187.82 110.0,187.83 111.0,187.85 112.0,187.98 113.0,188.03 114.0,187.92 115.0,187.85 116.0,187.87 117.0,187.97 118.0,187.84 119.0,187.99 120.0,187.99 121.0,187.90 122.0,187.94 123.0,187.95 124.0,188.00 125.0,187.83 126.0,187.98 127.0,187.88 128.0,187.85 129.0,187.91 130.0,187.89 131.0,187.84 132.0,187.80 133.0,187.84 134.0,187.99 135.0,188.03 136.0,187.94 137.0,187.98 138.0,187.87 139.0,187.89 140.0,187.92 141.0,187.83 142.0,187.84 143.0,187.91 144.0,187.88 145.0,187.83 146.0,187.92 147.0,187.88 148.0,187.96 149.0,187.90 150.0,187.88 151.0,187.91 152.0,187.89 153.0,187.86 154.0,187.87 155.0,187.95 156.0,187.94 157.0,187.98 158.0,187.79 159.0,187.87 160.0,187.87 161.0,187.91 162.0,187.87 163.0,187.87 164.0,187.95 165.0,187.91 166.0,187.82 167.0,187.98 168.0,187.96 169.0,187.86 170.0,187.95 171.0,187.85 172.0,187.97 173.0,187.89 174.0,187.85 175.0,187.88 176.0,187.85 177.0,187.91 178.0,187.91 179.0,187.90 180.0,187.86 181.0,187.66 182.0,187.90 183.0,187.78 184.0,187.91 185.0,187.97 186.0,187.92 187.0,187.87 188.0,187.89 189.0,187.89 190.0,187.86 191.0,187.86 192.0,187.84 193.0,187.97 194.0,187.90 195.0,187.96 196.0,187.88 197.0,187.90 198.0,187.89 199.0,187.93 200.0,187.95 201.0,187.91 202.0,187.85 203.0,187.85 204.0,188.00 205.0,187.88 206.0,187.88 207.0,187.99 208.0,187.97 209.0,187.93 210.0,187.87 211.0,188.05 212.0,187.92 213.0,187.93 214.0,187.88 215.0,187.80 216.0,187.81 217.0,187.92 218.0,187.92 219.0,187.88 220.0,187.82 221.0,187.80 222.0,187.87 223.0,187.80 224.0,187.95 225.0,187.96 226.0,188.07 227.0,187.94 228.0,187.84 229.0,187.82 230.0,187.66 231.0,187.84 232.0,187.86 233.0,187.94 234.0,187.91 235.0,187.91 236.0,187.88 237.0,187.90 238.0,187.95 239.0,187.78 240.0,187.82 241.0,187.75 242.0,187.95 243.0,187.92 244.0,187.88 245.0,187.73 246.0,187.82 247.0,187.79 248.0,187.80 249.0,187.77 250.0,187.82 251.0,187.74 252.0,187.82 253.0,187.76 254.0,187.70 255.0,187.70 256.0,187.66 257.0,187.75 258.0,187.64 259.0,187.67 260.0,187.58 261.0,187.45 262.0,187.65 263.0,187.42 264.0,187.56 265.0,187.48 266.0,187.18 267.0,187.14 268.0,187.00 269.0,186.54 270.0,185.35 271.0,184.00 272.0,184.72 273.0,183.88 274.0,184.93 275.0,185.88 276.0,185.75 277.0,186.57 278.0,186.97 279.0,186.98 280.0,186.92 281.0,186.80 282.0,187.04 283.0,187.06 284.0,186.91 285.0,186.77 286.0,187.04 287.0,187.49 288.0,186.78 289.0,186.91 290.0,186.89 291.0,186.05 292.0,186.76 293.0,186.49 294.0,187.08 295.0,186.55 296.0,186.36 297.0,186.50 298.0,186.60 299.0,186.33 300.0,186.50 301.5,186.20 302.8,186.40 304.0,185.80 305.2,186.80 306.5,185.60 307.5,185.90 308.5,185.00 309.4,184.60 310.2,183.70 311.3,183.90 312.4,183.40 313.4,181.50 314.3,173.00 315.1,160.00 315.9,172.00 316.8,181.00 317.9,183.40 319.0,183.90 320.2,184.40 321.2,184.80 322.0,185.60 323.0,187.00 324.2,186.20 325.5,186.00 327.0,186.60 328.5,186.40 330.0,186.90 331.0,186.89 332.0,186.48 333.0,186.87 334.0,187.21 335.0,187.59 336.0,187.22 337.0,187.11 338.0,187.39 339.0,187.35 340.0,187.54 341.0,187.40 342.0,187.11 343.0,187.22 344.0,187.22 345.0,187.26 346.0,187.25 347.0,187.04 348.0,186.78 349.0,187.07 350.0,186.79 351.0,187.13 352.0,186.98 353.0,186.36 354.0,185.97 355.0,185.57 356.0,185.44 357.0,184.27 358.0,184.04 359.0,185.60 360.0,186.85 361.0,187.16 362.0,187.35 363.0,187.52 364.0,187.41 365.0,187.48 366.0,187.50 367.0,187.54 368.0,187.63 369.0,187.53 370.0,187.59 371.0,187.76 372.0,187.71 373.0,187.77 374.0,187.59 375.0,187.69 376.0,187.73 377.0,187.78 378.0,187.74 379.0,187.87 380.0,187.80 381.0,187.82 382.0,187.82 383.0,187.88 384.0,187.80 385.0,187.92 386.0,187.88 387.0,187.86 388.0,187.86 389.0,187.89 390.0,187.93 391.0,187.93 392.0,187.89 393.0,187.93 394.0,187.88 395.0,187.96 396.0,187.88 397.0,187.74 398.0,187.97 399.0,187.89 400.0,187.81 401.0,187.87 402.0,187.83 403.0,188.02 404.0,187.92 405.0,187.79 406.0,187.93 407.0,187.87 408.0,188.02 409.0,187.82 410.0,187.75 411.0,187.90 412.0,187.87 413.0,187.87 414.0,187.76 415.0,187.92 416.0,188.00 417.0,187.77 418.0,187.97 419.0,187.86 420.0,188.05 421.0,187.92 422.0,187.89 423.0,187.97 424.0,187.93 425.0,187.86 426.0,187.94 427.0,187.87 428.0,187.78 429.0,188.03 430.0,187.88 431.0,187.86 432.0,187.92 433.0,187.80 434.0,187.81 435.0,187.87 436.0,187.87 437.0,187.90 438.0,187.97 439.0,187.87 440.0,187.93 441.0,187.94 442.0,187.83 443.0,187.91 444.0,187.84 445.0,187.97 446.0,187.93 447.0,187.90 448.0,187.81 449.0,187.91 450.0,187.85 451.0,187.94 452.0,187.89 453.0,187.85 454.0,187.96 455.0,187.95 456.0,187.86 457.0,187.97 458.0,187.88 459.0,187.88 460.0,187.91 461.0,187.85 462.0,187.87 463.0,187.89 464.0,188.00 465.0,188.00 466.0,187.88 467.0,188.00 468.0,187.90 469.0,187.92 470.0,187.96 471.0,187.92 472.0,188.05 473.0,187.91 474.0,187.82 475.0,187.98 476.0,187.87 477.0,187.88 478.0,187.71 479.0,187.96 480.0,187.95 481.0,187.95 482.0,187.96 483.0,188.01 484.0,187.90 485.0,187.96 486.0,187.85 487.0,187.88 488.0,187.97 489.0,187.92 490.0,187.81 491.0,187.92 492.0,187.89 493.0,187.85 494.0,187.93 495.0,187.87 496.0,187.80 497.0,187.83 498.0,188.01 499.0,187.80 500.0,187.91 501.0,187.94 502.0,187.94 503.0,187.82 504.0,187.88 505.0,187.91 506.0,187.95 507.0,187.86 508.0,187.83 509.0,187.96 510.0,187.97 511.0,187.92 512.0,187.86 513.0,187.93 514.0,187.91 515.0,187.95 516.0,187.82 517.0,187.91 518.0,187.89 519.0,187.83 520.0,187.91 521.0,187.90 522.0,187.87 523.0,187.92 524.0,187.81 525.0,187.90 526.0,187.93 527.0,187.92 528.0,187.97 529.0,187.82 530.0,187.80 531.0,187.91 532.0,187.93 533.0,188.04 534.0,187.94 535.0,187.84 536.0,187.95 537.0,187.85 538.0,187.80 539.0,188.07 540.0,187.92 541.0,187.95 542.0,187.94 543.0,188.02 544.0,187.92 545.0,187.98 546.0,187.83 547.0,187.81 548.0,187.99 549.0,187.99 550.0,187.93 551.0,187.91 552.0,187.91 553.0,187.86 554.0,188.00 555.0,187.94 556.0,187.93 557.0,187.92 558.0,187.97 559.0,187.93 560.0,187.95 561.0,187.82 562.0,187.93 563.0,188.04 564.0,187.87 565.0,187.89 566.0,187.96 567.0,187.96 568.0,187.94 569.0,187.80 570.0,187.93 571.0,187.82 572.0,187.85 573.0,187.93 574.0,187.88 575.0,187.95 576.0,188.10 577.0,187.95 578.0,187.95 579.0,187.84 580.0,187.86 581.0,187.83 582.0,187.87 583.0,187.83 584.0,187.86 585.0,187.89 586.0,187.84 587.0,187.81 588.0,187.81 589.0,187.93 590.0,187.90 591.0,187.97 592.0,187.97 593.0,187.88 594.0,187.94 595.0,187.81 596.0,188.05 597.0,187.98 598.0,187.89 599.0,187.83 600.5,187.92" stroke="#1a66cc"/><polyline points="30.0,224.41 31.0,224.46 32.0,224.54 33.0,224.50 34.0,224.48 35.0,224.55 36.0,224.45 37.0,224.51 38.0,224.48 39.0,224.46 40.0,224.52 41.0,224.45 42.0,224.59 43.0,224.47 44.0,224.60 45.0,224.45 46.0,224.53 47.0,224.44 48.0,224.44 49.0,224.51 50.0,224.53 51.0,224.44 52.0,224.56 53.0,224.46 54.0,224.51 55.0,224.52 56.0,224.53 57.0,224.41 58.0,224.58 59.0,224.53 60.0,224.48 61.0,224.45 62.0,224.42 63.0,224.43 64.0,224.53 65.0,224.48 66.0,224.45 67.0,224.47 68.0,224.57 69.0,224.48 70.0,224.47 71.0,224.56 72.0,224.52 73.0,224.50 74.0,224.47 75.0,224.43 76.0,224.44 77.0,224.48 78.0,224.49 79.0,224.52 80.0,224.53 81.0,224.51 82.0,224.51 83.0,224.45 84.0,224.40 85.0,224.47 86.0,224.45 87.0,224.47 88.0,224.49 89.0,224.44 90.0,224.45 91.0,224.49 92.0,224.51 93.0,224.47 94.0,224.52 95.0,224.49 96.0,224.45 97.0,224.50 98.0,224.59 99.0,224.47 100.0,224.56 101.0,224.57 102.0,224.57 103.0,224.46 104.0,224.60 105.0,224.51 106.0,224.49 107.0,224.49 108.0,224.53 109.0,224.50 110.0,224.49 111.0,224.56 112.0,224.46 113.0,224.45 114.0,224.54 115.0,224.53 116.0,224.55 117.0,224.45 118.0,224.55 119.0,224.52 120.0,224.58 121.0,224.44 122.0,224.51 123.0,224.49 124.0,224.42 125.0,224.47 126.0,224.55 127.0,224.48 128.0,224.46 129.0,224.54 130.0,224.55 131.0,224.55 132.0,224.46 133.0,224.50 134.0,224.55 135.0,224.47 136.0,224.46 137.0,224.54 138.0,224.57 139.0,224.44 140.0,224.37 141.0,224.43 142.0,224.45 143.0,224.49 144.0,224.53 145.0,224.49 146.0,224.47 147.0,224.51 148.0,224.45 149.0,224.50 150.0,224.47 151.0,224.63 152.0,224.54 153.0,224.46 154.0,224.45 155.0,224.48 156.0,224.42 157.0,224.46 158.0,224.46 159.0,224.54 160.0,224.48 161.0,224.46 162.0,224.43 163.0,224.44 164.0,224.50 165.0,224.49 166.0,224.55 167.0,224.47 168.0,224.55 169.0,224.51 170.0,224.50 171.0,224.40 172.0,224.44 173.0,224.53 174.0,224.57 175.0,224.51 176.0,224.54 177.0,224.48 178.0,224.48 179.0,224.47 180.0,224.55 181.0,224.51 182.0,224.49 183.0,224.48 184.0,224.53 185.0,224.51 186.0,224.46 187.0,224.58 188.0,224.51 189.0,224.50 190.0,224.57 191.0,224.55 192.0,224.49 193.0,224.52 194.0,224.45 195.0,224.47 196.0,224.39 197.0,224.56 198.0,224.41 199.0,224.53 200.0,224.46 201.0,224.45 202.0,224.49 203.0,224.51 204.0,224.53 205.0,224.58 206.0,224.51 207.0,224.54 208.0,224.47 209.0,224.53 210.0,224.50 211.0,224.47 212.0,224.49 213.0,224.49 214.0,224.50 215.0,224.51 216.0,224.47 217.0,224.46 218.0,224.53 219.0,224.41 220.0,224.46 221.0,224.57 222.0,224.36 223.0,224.45 224.0,224.52 225.0,224.41 226.0,224.61 227.0,224.36 228.0,224.55 229.0,224.56 230.0,224.52 231.0,224.47 232.0,224.49 233.0,224.43 234.0,224.51 235.0,224.41 236.0,224.45 237.0,224.51 238.0,224.40 239.0,224.43 240.0,224.46 241.0,224.37 242.0,224.50 243.0,224.45 244.0,224.35 245.0,224.42 246.0,224.37 247.0,224.37 248.0,224.40 249.0,224.35 250.0,224.43 251.0,224.32 252.0,224.41 253.0,224.34 254.0,224.38 255.0,224.27 256.0,224.26 257.0,224.19 258.0,224.29 259.0,224.29 260.0,224.35 261.0,224.25 262.0,224.13 263.0,224.03 264.0,224.00 265.0,223.83 266.0,223.72 267.0,223.24 268.0,222.58 269.0,222.57 270.0,222.46 271.0,221.38 272.0,220.99 273.0,222.26 274.0,222.90 275.0,223.31 276.0,223.47 277.0,223.36 278.0,223.79 279.0,223.51 280.0,223.60 281.0,223.57 282.0,223.78 283.0,223.64 284.0,223.63 285.0,223.30 286.0,223.56 287.0,223.26 288.0,223.58 289.0,223.57 290.0,223.46 291.0,223.88 292.0,223.52 293.0,223.51 294.0,223.38 295.0,223.27 296.0,223.53 297.0,223.55 298.0,222.89 299.0,223.49 300.0,223.20 302.0,223.00 304.0,223.30 305.5,222.70 307.0,223.00 308.5,222.50 310.0,222.40 311.7,222.00 312.8,220.80 313.6,214.00 314.4,205.00 315.1,195.60 315.9,205.00 316.8,214.00 317.7,221.50 318.6,223.50 319.6,222.30 321.0,222.80 322.5,223.20 324.0,222.60 325.5,222.80 327.0,223.20 330.0,223.10 331.0,223.25 332.0,223.39 333.0,223.29 334.0,222.89 335.0,222.94 336.0,223.70 337.0,223.35 338.0,223.00 339.0,223.43 340.0,223.31 341.0,223.04 342.0,222.99 343.0,223.17 344.0,223.56 345.0,223.53 346.0,223.52 347.0,223.63 348.0,223.70 349.0,223.28 350.0,223.56 351.0,223.47 352.0,223.37 353.0,223.37 354.0,223.21 355.0,222.70 356.0,221.50 357.0,220.43 358.0,221.65 359.0,222.57 360.0,223.14 361.0,223.66 362.0,223.86 363.0,223.96 364.0,223.89 365.0,224.13 366.0,224.03 367.0,224.04 368.0,224.12 369.0,224.18 370.0,224.27 371.0,224.28 372.0,224.26 373.0,224.34 374.0,224.30 375.0,224.37 376.0,224.24 377.0,224.24 378.0,224.40 379.0,224.28 380.0,224.36 381.0,224.38 382.0,224.37 383.0,224.38 384.0,224.49 385.0,224.28 386.0,224.47 387.0,224.55 388.0,224.44 389.0,224.44 390.0,224.48 391.0,224.54 392.0,224.40 393.0,224.46 394.0,224.45 395.0,224.49 396.0,224.48 397.0,224.50 398.0,224.45 399.0,224.48 400.0,224.45 401.0,224.45 402.0,224.48 403.0,224.48 404.0,224.43 405.0,224.56 406.0,224.48 407.0,224.42 408.0,224.54 409.0,224.45 410.0,224.52 411.0,224.49 412.0,224.50 413.0,224.50 414.0,224.47 415.0,224.50 416.0,224.59 417.0,224.39 418.0,224.50 419.0,224.52 420.0,224.45 421.0,224.43 422.0,224.60 423.0,224.48 424.0,224.60 425.0,224.52 426.0,224.50 427.0,224.52 428.0,224.53 429.0,224.55 430.0,224.52 431.0,224.50 432.0,224.51 433.0,224.56 434.0,224.54 435.0,224.45 436.0,224.47 437.0,224.51 438.0,224.47 439.0,224.48 440.0,224.45 441.0,224.49 442.0,224.52 443.0,224.55 444.0,224.50 445.0,224.60 446.0,224.49 447.0,224.65 448.0,224.55 449.0,224.52 450.0,224.47 451.0,224.36 452.0,224.49 453.0,224.51 454.0,224.59 455.0,224.43 456.0,224.59 457.0,224.49 458.0,224.53 459.0,224.38 460.0,224.51 461.0,224.48 462.0,224.53 463.0,224.50 464.0,224.44 465.0,224.54 466.0,224.53 467.0,224.53 468.0,224.55 469.0,224.55 470.0,224.50 471.0,224.43 472.0,224.43 473.0,224.56 474.0,224.53 475.0,224.50 476.0,224.48 477.0,224.50 478.0,224.50 479.0,224.48 480.0,224.47 481.0,224.60 482.0,224.51 483.0,224.47 484.0,224.44 485.0,224.46 486.0,224.53 487.0,224.54 488.0,224.49 489.0,224.50 490.0,224.48 491.0,224.45 492.0,224.56 493.0,224.52 494.0,224.62 495.0,224.46 496.0,224.49 497.0,224.54 498.0,224.49 499.0,224.43 500.0,224.45 501.0,224.50 502.0,224.52 503.0,224.49 504.0,224.55 505.0,224.55 506.0,224.51 507.0,224.50 508.0,224.49 509.0,224.53 510.0,224.54 511.0,224.50 512.0,224.52 513.0,224.48 514.0,224.43 515.0,224.45 516.0,224.54 517.0,224.52 518.0,224.58 519.0,224.50 520.0,224.54 521.0,224.56 522.0,224.55 523.0,224.47 524.0,224.49 525.0,224.51 526.0,224.45 527.0,224.52 528.0,224.55 529.0,224.48 530.0,224.59 531.0,224.49 532.0,224.49 533.0,224.49 534.0,224.47 535.0,224.52 536.0,224.50 537.0,224.58 538.0,224.53 539.0,224.53 540.0,224.49 541.0,224.43 542.0,224.50 543.0,224.46 544.0,224.55 545.0,224.50 546.0,224.58 547.0,224.53 548.0,224.54 549.0,224.51 550.0,224.51 551.0,224.53 552.0,224.54 553.0,224.47 554.0,224.52 555.0,224.63 556.0,224.50 557.0,224.49 558.0,224.47 559.0,224.43 560.0,224.56 561.0,224.50 562.0,224.51 563.0,224.59 564.0,224.62 565.0,224.46 566.0,224.55 567.0,224.53 568.0,224.52 569.0,224.52 570.0,224.50 571.0,224.58 572.0,224.53 573.0,224.52 574.0,224.56 575.0,224.54 576.0,224.52 577.0,224.52 578.0,224.58 579.0,224.52 580.0,224.50 581.0,224.46 582.0,224.48 583.0,224.45 584.0,224.51 585.0,224.51 586.0,224.40 587.0,224.50 588.0,224.53 589.0,224.51 590.0,224.45 591.0,224.56 592.0,224.47 593.0,224.44 594.0,224.45 595.0,224.50 596.0,224.55 597.0,224.56 598.0,224.51 599.0,224.44 600.5,224.47" stroke="#2080d9"/><polyline points="30.0,261.16 31.0,261.19 32.0,261.13 33.0,261.20 34.0,261.23 35.0,261.19 36.0,261.22 37.0,261.16 38.0,261.14 39.0,261.17 40.0,261.25 41.0,261.24 42.0,261.18 43.0,261.25 44.0,261.19 45.0,261.26 46.0,261.22 47.0,261.18 48.0,261.23 49.0,261.17 50.0,261.16 51.0,261.14 52.0,261.21 53.0,261.20 54.0,261.20 55.0,261.18 56.0,261.26 57.0,261.18 58.0,261.17 59.0,261.25 60.0,261.26 61.0,261.21 62.0,261.13 63.0,261.18 64.0,261.22 65.0,261.20 66.0,261.26 67.0,261.15 68.0,261.23 69.0,261.17 70.0,261.25 71.0,261.20 72.0,261.24 73.0,261.17 74.0,261.14 75.0,261.16 76.0,261.18 77.0,261.16 78.0,261.25 79.0,261.25 80.0,261.21 81.0,261.16 82.0,261.20 83.0,261.17 84.0,261.26 85.0,261.21 86.0,261.22 87.0,261.18 88.0,261.12 89.0,261.17 90.0,261.16 91.0,261.21 92.0,261.20 93.0,261.17 94.0,261.18 95.0,261.26 96.0,261.16 97.0,261.16 98.0,261.19 99.0,261.17 100.0,261.18 101.0,261.22 102.0,261.27 103.0,261.13 104.0,261.20 105.0,261.20 106.0,261.20 107.0,261.19 108.0,261.19 109.0,261.24 110.0,261.18 111.0,261.19 112.0,261.20 113.0,261.20 114.0,261.19 115.0,261.24 116.0,261.20 117.0,261.21 118.0,261.20 119.0,261.16 120.0,261.17 121.0,261.16 122.0,261.21 123.0,261.17 124.0,261.16 125.0,261.21 126.0,261.22 127.0,261.13 128.0,261.27 129.0,261.20 130.0,261.20 131.0,261.24 132.0,261.20 133.0,261.18 134.0,261.29 135.0,261.16 136.0,261.20 137.0,261.23 138.0,261.16 139.0,261.20 140.0,261.22 141.0,261.30 142.0,261.16 143.0,261.20 144.0,261.23 145.0,261.20 146.0,261.15 147.0,261.22 148.0,261.20 149.0,261.22 150.0,261.24 151.0,261.24 152.0,261.22 153.0,261.21 154.0,261.16 155.0,261.19 156.0,261.21 157.0,261.18 158.0,261.20 159.0,261.17 160.0,261.26 161.0,261.29 162.0,261.18 163.0,261.22 164.0,261.19 165.0,261.25 166.0,261.22 167.0,261.20 168.0,261.19 169.0,261.20 170.0,261.16 171.0,261.23 172.0,261.17 173.0,261.22 174.0,261.20 175.0,261.24 176.0,261.20 177.0,261.24 178.0,261.16 179.0,261.22 180.0,261.19 181.0,261.21 182.0,261.20 183.0,261.24 184.0,261.12 185.0,261.21 186.0,261.14 187.0,261.25 188.0,261.12 189.0,261.16 190.0,261.13 191.0,261.26 192.0,261.15 193.0,261.20 194.0,261.18 195.0,261.13 196.0,261.19 197.0,261.23 198.0,261.19 199.0,261.24 200.0,261.18 201.0,261.20 202.0,261.18 203.0,261.21 204.0,261.27 205.0,261.21 206.0,261.21 207.0,261.17 208.0,261.17 209.0,261.26 210.0,261.15 211.0,261.16 212.0,261.19 213.0,261.18 214.0,261.28 215.0,261.10 216.0,261.21 217.0,261.22 218.0,261.15 219.0,261.17 220.0,261.21 221.0,261.26 222.0,261.16 223.0,261.13 224.0,261.23 225.0,261.25 226.0,261.18 227.0,261.10 228.0,261.25 229.0,261.18 230.0,261.23 231.0,261.18 232.0,261.17 233.0,261.16 234.0,261.24 235.0,261.23 236.0,261.08 237.0,261.13 238.0,261.24 239.0,261.15 240.0,261.10 241.0,261.15 242.0,261.15 243.0,261.14 244.0,261.12 245.0,261.12 246.0,261.11 247.0,261.14 248.0,261.08 249.0,261.09 250.0,261.09 251.0,261.15 252.0,261.10 253.0,261.07 254.0,261.09 255.0,261.07 256.0,261.09 257.0,261.05 258.0,261.11 259.0,261.07 260.0,260.97 261.0,260.93 262.0,260.99 263.0,260.95 264.0,260.88 265.0,260.75 266.0,260.69 267.0,260.78 268.0,260.74 269.0,260.60 270.0,260.13 271.0,259.49 272.0,257.46 273.0,258.71 274.0,259.96 275.0,260.24 276.0,260.40 277.0,260.29 278.0,260.42 279.0,260.32 280.0,260.56 281.0,260.50 282.0,260.59 283.0,260.50 284.0,260.34 285.0,260.45 286.0,260.32 287.0,260.43 288.0,260.36 289.0,260.13 290.0,260.26 291.0,260.24 292.0,260.15 293.0,260.33 294.0,260.46 295.0,260.05 296.0,260.03 297.0,259.63 298.0,260.02 299.0,259.93 300.0,260.00 302.0,259.80 304.0,259.90 305.5,259.40 307.0,259.20 308.0,258.40 309.2,258.00 310.3,257.30 311.5,256.20 312.4,254.80 313.2,252.60 313.9,248.50 314.5,241.00 315.1,230.20 315.7,241.00 316.3,248.50 317.0,252.60 317.8,254.80 318.8,256.30 319.8,257.40 321.0,258.00 322.3,258.30 324.0,258.60 326.0,259.00 328.0,259.50 330.0,259.80 331.0,259.38 332.0,259.91 333.0,259.99 334.0,259.77 335.0,259.87 336.0,259.80 337.0,260.14 338.0,259.78 339.0,260.02 340.0,260.42 341.0,260.14 342.0,260.24 343.0,260.18 344.0,260.07 345.0,260.26 346.0,260.35 347.0,260.20 348.0,260.40 349.0,260.53 350.0,260.53 351.0,260.25 352.0,260.33 353.0,260.26 354.0,260.51 355.0,260.38 356.0,260.19 357.0,259.50 358.0,258.22 359.0,258.35 360.0,259.67 361.0,260.19 362.0,260.52 363.0,260.69 364.0,260.74 365.0,260.71 366.0,260.68 367.0,260.84 368.0,260.90 369.0,260.90 370.0,260.91 371.0,260.92 372.0,261.01 373.0,260.99 374.0,261.01 375.0,260.97 376.0,261.00 377.0,261.06 378.0,261.01 379.0,261.01 380.0,261.07 381.0,261.15 382.0,261.11 383.0,261.17 384.0,261.11 385.0,261.11 386.0,261.07 387.0,261.11 388.0,261.20 389.0,261.16 390.0,261.18 391.0,261.18 392.0,261.16 393.0,261.15 394.0,261.17 395.0,261.20 396.0,261.19 397.0,261.20 398.0,261.18 399.0,261.15 400.0,261.17 401.0,261.14 402.0,261.23 403.0,261.10 404.0,261.18 405.0,261.28 406.0,261.18 407.0,261.15 408.0,261.19 409.0,261.24 410.0,261.19 411.0,261.22 412.0,261.20 413.0,261.18 414.0,261.32 415.0,261.20 416.0,261.17 417.0,261.18 418.0,261.21 419.0,261.21 420.0,261.23 421.0,261.20 422.0,261.14 423.0,261.22 424.0,261.19 425.0,261.19 426.0,261.14 427.0,261.18 428.0,261.17 429.0,261.20 430.0,261.14 431.0,261.20 432.0,261.20 433.0,261.15 434.0,261.17 435.0,261.16 436.0,261.24 437.0,261.10 438.0,261.19 439.0,261.13 440.0,261.18 441.0,261.23 442.0,261.17 443.0,261.20 444.0,261.17 445.0,261.28 446.0,261.24 447.0,261.24 448.0,261.15 449.0,261.16 450.0,261.24 451.0,261.19 452.0,261.19 453.0,261.21 454.0,261.15 455.0,261.23 456.0,261.20 457.0,261.22 458.0,261.17 459.0,261.22 460.0,261.17 461.0,261.24 462.0,261.24 463.0,261.24 464.0,261.22 465.0,261.22 466.0,261.09 467.0,261.23 468.0,261.19 469.0,261.20 470.0,261.19 471.0,261.14 472.0,261.18 473.0,261.23 474.0,261.26 475.0,261.17 476.0,261.16 477.0,261.26 478.0,261.16 479.0,261.28 480.0,261.20 481.0,261.16 482.0,261.24 483.0,261.27 484.0,261.14 485.0,261.26 486.0,261.19 487.0,261.26 488.0,261.18 489.0,261.14 490.0,261.22 491.0,261.24 492.0,261.28 493.0,261.27 494.0,261.23 495.0,261.19 496.0,261.18 497.0,261.19 498.0,261.17 499.0,261.19 500.0,261.10 501.0,261.21 502.0,261.20 503.0,261.30 504.0,261.23 505.0,261.18 506.0,261.22 507.0,261.15 508.0,261.18 509.0,261.13 510.0,261.26 511.0,261.22 512.0,261.15 513.0,261.20 514.0,261.24 515.0,261.22 516.0,261.22 517.0,261.17 518.0,261.17 519.0,261.20 520.0,261.24 521.0,261.17 522.0,261.15 523.0,261.25 524.0,261.16 525.0,261.24 526.0,261.21 527.0,261.24 528.0,261.27 529.0,261.23 530.0,261.23 531.0,261.16 532.0,261.17 533.0,261.23 534.0,261.26 535.0,261.26 536.0,261.29 537.0,261.21 538.0,261.21 539.0,261.24 540.0,261.20 541.0,261.20 542.0,261.16 543.0,261.24 544.0,261.16 545.0,261.22 546.0,261.14 547.0,261.24 548.0,261.16 549.0,261.23 550.0,261.14 551.0,261.18 552.0,261.25 553.0,261.17 554.0,261.20 555.0,261.18 556.0,261.11 557.0,261.21 558.0,261.22 559.0,261.16 560.0,261.22 561.0,261.17 562.0,261.16 563.0,261.20 564.0,261.17 565.0,261.29 566.0,261.14 567.0,261.23 568.0,261.24 569.0,261.12 570.0,261.13 571.0,261.22 572.0,261.18 573.0,261.22 574.0,261.25 575.0,261.18 576.0,261.16 577.0,261.09 578.0,261.21 579.0,261.16 580.0,261.21 581.0,261.21 582.0,261.14 583.0,261.27 584.0,261.24 585.0,261.23 586.0,261.15 587.0,261.18 588.0,261.18 589.0,261.18 590.0,261.15 591.0,261.22 592.0,261.21 593.0,261.21 594.0,261.18 595.0,261.25 596.0,261.21 597.0,261.09 598.0,261.17 599.0,261.20 600.5,261.24" stroke="#2699e6"/><polyline points="30.0,297.84 31.0,297.84 32.0,297.83 33.0,297.87 34.0,297.84 35.0,297.83 36.0,297.83 37.0,297.87 38.0,297.83 39.0,297.80 40.0,297.87 41.0,297.83 42.0,297.86 43.0,297.86 44.0,297.89 45.0,297.88 46.0,297.83 47.0,297.84 48.0,297.81 49.0,297.90 50.0,297.86 51.0,297.89 52.0,297.84 53.0,297.78 54.0,297.90 55.0,297.85 56.0,297.85 57.0,297.85 58.0,297.87 59.0,297.87 60.0,297.80 61.0,297.88 62.0,297.83 63.0,297.83 64.0,297.91 65.0,297.88 66.0,297.84 67.0,297.79 68.0,297.86 69.0,297.87 70.0,297.85 71.0,297.81 72.0,297.82 73.0,297.81 74.0,297.86 75.0,297.88 76.0,297.88 77.0,297.83 78.0,297.86 79.0,297.87 80.0,297.83 81.0,297.85 82.0,297.92 83.0,297.86 84.0,297.88 85.0,297.84 86.0,297.85 87.0,297.80 88.0,297.85 89.0,297.89 90.0,297.92 91.0,297.89 92.0,297.87 93.0,297.85 94.0,297.83 95.0,297.84 96.0,297.87 97.0,297.82 98.0,297.88 99.0,297.82 100.0,297.79 101.0,297.82 102.0,297.80 103.0,297.81 104.0,297.89 105.0,297.84 106.0,297.86 107.0,297.89 108.0,297.89 109.0,297.83 110.0,297.89 111.0,297.86 112.0,297.85 113.0,297.86 114.0,297.80 115.0,297.82 116.0,297.85 117.0,297.87 118.0,297.84 119.0,297.85 120.0,297.88 121.0,297.90 122.0,297.87 123.0,297.89 124.0,297.84 125.0,297.84 126.0,297.86 127.0,297.84 128.0,297.83 129.0,297.90 130.0,297.84 131.0,297.82 132.0,297.87 133.0,297.91 134.0,297.85 135.0,297.89 136.0,297.84 137.0,297.83 138.0,297.83 139.0,297.85 140.0,297.91 141.0,297.81 142.0,297.90 143.0,297.82 144.0,297.84 145.0,297.88 146.0,297.87 147.0,297.86 148.0,297.80 149.0,297.86 150.0,297.82 151.0,297.93 152.0,297.84 153.0,297.86 154.0,297.81 155.0,297.83 156.0,297.81 157.0,297.88 158.0,297.84 159.0,297.87 160.0,297.83 161.0,297.83 162.0,297.89 163.0,297.82 164.0,297.79 165.0,297.86 166.0,297.81 167.0,297.84 168.0,297.88 169.0,297.82 170.0,297.88 171.0,297.83 172.0,297.90 173.0,297.89 174.0,297.83 175.0,297.84 176.0,297.82 177.0,297.86 178.0,297.89 179.0,297.80 180.0,297.88 181.0,297.81 182.0,297.82 183.0,297.79 184.0,297.92 185.0,297.85 186.0,297.86 187.0,297.83 188.0,297.88 189.0,297.78 190.0,297.85 191.0,297.92 192.0,297.84 193.0,297.85 194.0,297.87 195.0,297.82 196.0,297.85 197.0,297.88 198.0,297.86 199.0,297.86 200.0,297.84 201.0,297.86 202.0,297.85 203.0,297.90 204.0,297.87 205.0,297.84 206.0,297.77 207.0,297.87 208.0,297.87 209.0,297.82 210.0,297.79 211.0,297.81 212.0,297.88 213.0,297.81 214.0,297.83 215.0,297.86 216.0,297.89 217.0,297.85 218.0,297.84 219.0,297.83 220.0,297.90 221.0,297.88 222.0,297.84 223.0,297.80 224.0,297.82 225.0,297.87 226.0,297.82 227.0,297.87 228.0,297.86 229.0,297.85 230.0,297.87 231.0,297.86 232.0,297.82 233.0,297.83 234.0,297.92 235.0,297.80 236.0,297.83 237.0,297.87 238.0,297.83 239.0,297.81 240.0,297.79 241.0,297.85 242.0,297.87 243.0,297.88 244.0,297.83 245.0,297.86 246.0,297.79 247.0,297.83 248.0,297.80 249.0,297.83 250.0,297.84 251.0,297.85 252.0,297.78 253.0,297.86 254.0,297.79 255.0,297.76 256.0,297.79 257.0,297.74 258.0,297.79 259.0,297.79 260.0,297.77 261.0,297.79 262.0,297.75 263.0,297.75 264.0,297.68 265.0,297.73 266.0,297.67 267.0,297.65 268.0,297.62 269.0,297.54 270.0,297.25 271.0,296.78 272.0,296.54 273.0,297.10 274.0,297.42 275.0,297.58 276.0,297.67 277.0,297.65 278.0,297.63 279.0,297.57 280.0,297.57 281.0,297.60 282.0,297.65 283.0,297.64 284.0,297.62 285.0,297.60 286.0,297.65 287.0,297.61 288.0,297.61 289.0,297.61 290.0,297.53 291.0,297.47 292.0,297.60 293.0,297.59 294.0,297.52 295.0,297.49 296.0,297.75 297.0,297.44 298.0,297.49 299.0,297.53 300.0,297.50 303.0,297.20 306.0,297.00 308.0,296.60 310.0,296.30 311.3,295.80 312.3,295.10 313.1,293.60 313.8,290.00 314.4,282.00 315.1,263.20 315.8,282.00 316.4,290.00 317.1,293.60 317.9,295.10 319.0,295.90 320.5,296.40 322.0,296.60 325.0,297.00 328.0,297.30 330.0,297.40 331.0,297.29 332.0,297.43 333.0,297.60 334.0,297.53 335.0,297.50 336.0,297.51 337.0,297.47 338.0,297.56 339.0,297.47 340.0,297.46 341.0,297.51 342.0,297.59 343.0,297.55 344.0,297.59 345.0,297.39 346.0,297.64 347.0,297.73 348.0,297.66 349.0,297.56 350.0,297.53 351.0,297.60 352.0,297.52 353.0,297.62 354.0,297.52 355.0,297.54 356.0,297.42 357.0,296.88 358.0,296.61 359.0,296.97 360.0,297.31 361.0,297.51 362.0,297.61 363.0,297.71 364.0,297.62 365.0,297.75 366.0,297.81 367.0,297.76 368.0,297.77 369.0,297.75 370.0,297.71 371.0,297.79 372.0,297.79 373.0,297.81 374.0,297.88 375.0,297.82 376.0,297.81 377.0,297.86 378.0,297.76 379.0,297.77 380.0,297.80 381.0,297.79 382.0,297.84 383.0,297.81 384.0,297.88 385.0,297.88 386.0,297.85 387.0,297.82 388.0,297.85 389.0,297.86 390.0,297.80 391.0,297.85 392.0,297.86 393.0,297.84 394.0,297.89 395.0,297.88 396.0,297.81 397.0,297.85 398.0,297.82 399.0,297.86 400.0,297.82 401.0,297.87 402.0,297.86 403.0,297.88 404.0,297.84 405.0,297.80 406.0,297.90 407.0,297.84 408.0,297.89 409.0,297.86 410.0,297.87 411.0,297.91 412.0,297.86 413.0,297.89 414.0,297.80 415.0,297.88 416.0,297.84 417.0,297.84 418.0,297.85 419.0,297.86 420.0,297.90 421.0,297.79 422.0,297.85 423.0,297.83 424.0,297.89 425.0,297.84 426.0,297.86 427.0,297.84 428.0,297.87 429.0,297.88 430.0,297.84 431.0,297.85 432.0,297.80 433.0,297.86 434.0,297.88 435.0,297.83 436.0,297.89 437.0,297.78 438.0,297.79 439.0,297.81 440.0,297.83 441.0,297.85 442.0,297.85 443.0,297.85 444.0,297.87 445.0,297.83 446.0,297.81 447.0,297.81 448.0,297.92 449.0,297.77 450.0,297.84 451.0,297.90 452.0,297.87 453.0,297.82 454.0,297.85 455.0,297.88 456.0,297.89 457.0,297.82 458.0,297.87 459.0,297.86 460.0,297.89 461.0,297.89 462.0,297.84 463.0,297.80 464.0,297.86 465.0,297.91 466.0,297.87 467.0,297.86 468.0,297.93 469.0,297.82 470.0,297.88 471.0,297.83 472.0,297.85 473.0,297.85 474.0,297.90 475.0,297.82 476.0,297.83 477.0,297.80 478.0,297.87 479.0,297.84 480.0,297.86 481.0,297.82 482.0,297.84 483.0,297.88 484.0,297.84 485.0,297.87 486.0,297.87 487.0,297.84 488.0,297.80 489.0,297.88 490.0,297.86 491.0,297.88 492.0,297.79 493.0,297.80 494.0,297.78 495.0,297.82 496.0,297.88 497.0,297.87 498.0,297.85 499.0,297.85 500.0,297.87 501.0,297.84 502.0,297.86 503.0,297.85 504.0,297.78 505.0,297.84 506.0,297.89 507.0,297.84 508.0,297.85 509.0,297.83 510.0,297.83 511.0,297.89 512.0,297.84 513.0,297.82 514.0,297.75 515.0,297.83 516.0,297.79 517.0,297.79 518.0,297.88 519.0,297.87 520.0,297.79 521.0,297.88 522.0,297.86 523.0,297.82 524.0,297.87 525.0,297.80 526.0,297.81 527.0,297.80 528.0,297.81 529.0,297.88 530.0,297.81 531.0,297.81 532.0,297.82 533.0,297.86 534.0,297.84 535.0,297.88 536.0,297.83 537.0,297.81 538.0,297.83 539.0,297.85 540.0,297.82 541.0,297.86 542.0,297.91 543.0,297.83 544.0,297.85 545.0,297.89 546.0,297.83 547.0,297.82 548.0,297.81 549.0,297.86 550.0,297.87 551.0,297.84 552.0,297.85 553.0,297.89 554.0,297.88 555.0,297.80 556.0,297.85 557.0,297.85 558.0,297.87 559.0,297.84 560.0,297.83 561.0,297.83 562.0,297.79 563.0,297.85 564.0,297.83 565.0,297.86 566.0,297.82 567.0,297.84 568.0,297.82 569.0,297.81 570.0,297.87 571.0,297.83 572.0,297.86 573.0,297.81 574.0,297.85 575.0,297.79 576.0,297.83 577.0,297.83 578.0,297.87 579.0,297.85 580.0,297.84 581.0,297.88 582.0,297.85 583.0,297.87 584.0,297.87 585.0,297.85 586.0,297.84 587.0,297.86 588.0,297.84 589.0,297.86 590.0,297.88 591.0,297.88 592.0,297.84 593.0,297.81 594.0,297.85 595.0,297.84 596.0,297.88 597.0,297.84 598.0,297.84 599.0,297.87 600.5,297.83" stroke="#2db3f2"/><polyline points="30.0,334.70 31.0,334.74 32.0,334.73 33.0,334.71 34.0,334.71 35.0,334.68 36.0,334.71 37.0,334.70 38.0,334.70 39.0,334.69 40.0,334.70 41.0,334.69 42.0,334.71 43.0,334.73 44.0,334.71 45.0,334.66 46.0,334.68 47.0,334.66 48.0,334.68 49.0,334.71 50.0,334.71 51.0,334.68 52.0,334.71 53.0,334.68 54.0,334.66 55.0,334.67 56.0,334.68 57.0,334.73 58.0,334.67 59.0,334.73 60.0,334.73 61.0,334.69 62.0,334.70 63.0,334.68 64.0,334.70 65.0,334.71 66.0,334.70 67.0,334.72 68.0,334.73 69.0,334.71 70.0,334.71 71.0,334.70 72.0,334.71 73.0,334.67 74.0,334.71 75.0,334.70 76.0,334.68 77.0,334.75 78.0,334.68 79.0,334.68 80.0,334.71 81.0,334.65 82.0,334.68 83.0,334.66 84.0,334.68 85.0,334.70 86.0,334.71 87.0,334.73 88.0,334.72 89.0,334.73 90.0,334.71 91.0,334.69 92.0,334.73 93.0,334.69 94.0,334.68 95.0,334.74 96.0,334.72 97.0,334.70 98.0,334.72 99.0,334.72 100.0,334.67 101.0,334.70 102.0,334.67 103.0,334.70 104.0,334.68 105.0,334.73 106.0,334.71 107.0,334.68 108.0,334.70 109.0,334.67 110.0,334.70 111.0,334.71 112.0,334.70 113.0,334.65 114.0,334.69 115.0,334.71 116.0,334.71 117.0,334.73 118.0,334.67 119.0,334.71 120.0,334.68 121.0,334.70 122.0,334.71 123.0,334.72 124.0,334.68 125.0,334.70 126.0,334.67 127.0,334.66 128.0,334.71 129.0,334.70 130.0,334.66 131.0,334.68 132.0,334.70 133.0,334.74 134.0,334.72 135.0,334.72 136.0,334.66 137.0,334.70 138.0,334.71 139.0,334.71 140.0,334.71 141.0,334.69 142.0,334.74 143.0,334.73 144.0,334.70 145.0,334.68 146.0,334.75 147.0,334.69 148.0,334.73 149.0,334.74 150.0,334.68 151.0,334.71 152.0,334.69 153.0,334.71 154.0,334.71 155.0,334.75 156.0,334.71 157.0,334.70 158.0,334.73 159.0,334.69 160.0,334.69 161.0,334.75 162.0,334.68 163.0,334.69 164.0,334.70 165.0,334.67 166.0,334.65 167.0,334.72 168.0,334.68 169.0,334.69 170.0,334.69 171.0,334.67 172.0,334.67 173.0,334.70 174.0,334.76 175.0,334.72 176.0,334.72 177.0,334.66 178.0,334.70 179.0,334.67 180.0,334.72 181.0,334.69 182.0,334.70 183.0,334.70 184.0,334.68 185.0,334.66 186.0,334.71 187.0,334.67 188.0,334.67 189.0,334.69 190.0,334.68 191.0,334.70 192.0,334.72 193.0,334.70 194.0,334.70 195.0,334.70 196.0,334.72 197.0,334.65 198.0,334.71 199.0,334.68 200.0,334.67 201.0,334.70 202.0,334.69 203.0,334.71 204.0,334.72 205.0,334.64 206.0,334.70 207.0,334.74 208.0,334.72 209.0,334.73 210.0,334.70 211.0,334.66 212.0,334.67 213.0,334.71 214.0,334.72 215.0,334.68 216.0,334.69 217.0,334.70 218.0,334.65 219.0,334.69 220.0,334.73 221.0,334.75 222.0,334.69 223.0,334.74 224.0,334.68 225.0,334.67 226.0,334.64 227.0,334.72 228.0,334.68 229.0,334.75 230.0,334.70 231.0,334.69 232.0,334.64 233.0,334.72 234.0,334.68 235.0,334.68 236.0,334.63 237.0,334.70 238.0,334.70 239.0,334.66 240.0,334.68 241.0,334.68 242.0,334.69 243.0,334.67 244.0,334.71 245.0,334.66 246.0,334.64 247.0,334.64 248.0,334.59 249.0,334.63 250.0,334.67 251.0,334.64 252.0,334.61 253.0,334.64 254.0,334.57 255.0,334.61 256.0,334.62 257.0,334.62 258.0,334.57 259.0,334.61 260.0,334.63 261.0,334.55 262.0,334.58 263.0,334.50 264.0,334.47 265.0,334.54 266.0,334.51 267.0,334.49 268.0,334.44 269.0,334.41 270.0,334.38 271.0,334.29 272.0,334.15 273.0,334.19 274.0,334.38 275.0,334.38 276.0,334.39 277.0,334.36 278.0,334.44 279.0,334.33 280.0,334.34 281.0,334.22 282.0,334.26 283.0,334.24 284.0,334.25 285.0,334.26 286.0,334.18 287.0,334.30 288.0,334.13 289.0,334.14 290.0,334.17 291.0,334.06 292.0,334.15 293.0,334.14 294.0,334.07 295.0,334.19 296.0,334.06 297.0,334.06 298.0,333.96 299.0,333.89 300.0,334.00 303.0,333.90 306.0,333.60 308.0,333.30 310.0,332.80 311.2,332.20 312.2,331.30 313.1,329.40 313.8,325.00 314.4,317.00 315.1,299.60 315.8,317.00 316.4,325.00 317.1,329.40 318.1,331.40 319.2,332.20 320.5,332.70 322.5,333.10 325.0,333.40 328.0,333.70 330.0,333.90 331.0,333.87 332.0,333.91 333.0,333.91 334.0,334.01 335.0,333.83 336.0,333.93 337.0,333.90 338.0,334.12 339.0,334.02 340.0,334.05 341.0,334.03 342.0,334.16 343.0,334.11 344.0,334.17 345.0,334.07 346.0,334.25 347.0,334.23 348.0,334.26 349.0,334.30 350.0,334.26 351.0,334.27 352.0,334.33 353.0,334.32 354.0,334.30 355.0,334.31 356.0,334.25 357.0,334.22 358.0,334.15 359.0,334.22 360.0,334.40 361.0,334.35 362.0,334.43 363.0,334.52 364.0,334.47 365.0,334.45 366.0,334.56 367.0,334.54 368.0,334.50 369.0,334.57 370.0,334.53 371.0,334.53 372.0,334.57 373.0,334.57 374.0,334.57 375.0,334.59 376.0,334.58 377.0,334.62 378.0,334.62 379.0,334.65 380.0,334.62 381.0,334.61 382.0,334.61 383.0,334.64 384.0,334.69 385.0,334.68 386.0,334.64 387.0,334.69 388.0,334.64 389.0,334.70 390.0,334.66 391.0,334.69 392.0,334.69 393.0,334.67 394.0,334.69 395.0,334.66 396.0,334.68 397.0,334.71 398.0,334.79 399.0,334.71 400.0,334.69 401.0,334.67 402.0,334.72 403.0,334.65 404.0,334.67 405.0,334.70 406.0,334.66 407.0,334.73 408.0,334.72 409.0,334.68 410.0,334.68 411.0,334.66 412.0,334.66 413.0,334.71 414.0,334.71 415.0,334.71 416.0,334.70 417.0,334.68 418.0,334.71 419.0,334.66 420.0,334.70 421.0,334.73 422.0,334.73 423.0,334.69 424.0,334.69 425.0,334.73 426.0,334.74 427.0,334.66 428.0,334.69 429.0,334.70 430.0,334.73 431.0,334.68 432.0,334.71 433.0,334.69 434.0,334.76 435.0,334.71 436.0,334.70 437.0,334.69 438.0,334.72 439.0,334.72 440.0,334.67 441.0,334.70 442.0,334.67 443.0,334.68 444.0,334.67 445.0,334.67 446.0,334.68 447.0,334.68 448.0,334.71 449.0,334.72 450.0,334.69 451.0,334.67 452.0,334.72 453.0,334.65 454.0,334.65 455.0,334.72 456.0,334.71 457.0,334.72 458.0,334.69 459.0,334.67 460.0,334.69 461.0,334.71 462.0,334.68 463.0,334.68 464.0,334.67 465.0,334.67 466.0,334.72 467.0,334.71 468.0,334.67 469.0,334.67 470.0,334.69 471.0,334.71 472.0,334.67 473.0,334.69 474.0,334.65 475.0,334.67 476.0,334.71 477.0,334.72 478.0,334.67 479.0,334.68 480.0,334.72 481.0,334.69 482.0,334.69 483.0,334.71 484.0,334.70 485.0,334.73 486.0,334.72 487.0,334.69 488.0,334.70 489.0,334.70 490.0,334.67 491.0,334.68 492.0,334.72 493.0,334.66 494.0,334.72 495.0,334.71 496.0,334.70 497.0,334.71 498.0,334.71 499.0,334.73 500.0,334.69 501.0,334.69 502.0,334.69 503.0,334.74 504.0,334.72 505.0,334.68 506.0,334.69 507.0,334.68 508.0,334.70 509.0,334.70 510.0,334.75 511.0,334.66 512.0,334.72 513.0,334.71 514.0,334.68 515.0,334.70 516.0,334.69 517.0,334.70 518.0,334.72 519.0,334.66 520.0,334.73 521.0,334.69 522.0,334.74 523.0,334.71 524.0,334.73 525.0,334.71 526.0,334.73 527.0,334.70 528.0,334.68 529.0,334.72 530.0,334.72 531.0,334.75 532.0,334.65 533.0,334.69 534.0,334.72 535.0,334.67 536.0,334.69 537.0,334.75 538.0,334.73 539.0,334.68 540.0,334.73 541.0,334.73 542.0,334.72 543.0,334.71 544.0,334.70 545.0,334.68 546.0,334.69 547.0,334.72 548.0,334.70 549.0,334.74 550.0,334.69 551.0,334.64 552.0,334.69 553.0,334.71 554.0,334.71 555.0,334.70 556.0,334.68 557.0,334.74 558.0,334.68 559.0,334.72 560.0,334.69 561.0,334.67 562.0,334.73 563.0,334.64 564.0,334.68 565.0,334.71 566.0,334.69 567.0,334.72 568.0,334.70 569.0,334.69 570.0,334.75 571.0,334.69 572.0,334.70 573.0,334.67 574.0,334.68 575.0,334.72 576.0,334.71 577.0,334.70 578.0,334.68 579.0,334.72 580.0,334.66 581.0,334.69 582.0,334.69 583.0,334.68 584.0,334.70 585.0,334.68 586.0,334.68 587.0,334.74 588.0,334.72 589.0,334.73 590.0,334.70 591.0,334.72 592.0,334.72 593.0,334.73 594.0,334.76 595.0,334.69 596.0,334.71 597.0,334.70 598.0,334.62 599.0,334.67 600.5,334.70" stroke="#33ccff"/><polygon points="313.6,144.5 315.1,119.5 316.5,145.5" fill="#134dbf" stroke="none"/></g><rect x="522.3" y="29.2" width="67.9" height="312.6" fill="#fff" fill-opacity="0.67"/><path d="M527.5 29.2v3.2M527.5 341.8v-3.2M556.2 29.2v3.2M556.2 341.8v-3.2M584.8 29.2v3.2M584.8 341.8v-3.2M522.3 34.9h3.5M590.2 34.9h-3.5M522.3 68.3h3.5M590.2 68.3h-3.5M522.3 101.7h3.5M590.2 101.7h-3.5M522.3 135.1h3.5M590.2 135.1h-3.5M522.3 168.5h3.5M590.2 168.5h-3.5M522.3 201.9h3.5M590.2 201.9h-3.5M522.3 235.3h3.5M590.2 235.3h-3.5M522.3 268.7h3.5M590.2 268.7h-3.5M522.3 302.1h3.5M590.2 302.1h-3.5M522.3 335.5h3.5M590.2 335.5h-3.5" stroke="#262626" stroke-width="1.6" fill="none"/><rect x="522.3" y="29.2" width="67.9" height="312.6" fill="none" stroke="#262626" stroke-width="1.7"/><circle cx="579.5" cy="41.6" r="7.15" fill="#000099"/><circle cx="573.8" cy="78.2" r="7.15" fill="#061aa6"/><circle cx="569.9" cy="114.9" r="7.15" fill="#0d33b2"/><circle cx="565.6" cy="151.7" r="7.15" fill="#134dbf"/><circle cx="557.9" cy="188.7" r="7.15" fill="#1a66cc"/><circle cx="544.0" cy="225.4" r="7.15" fill="#2080d9"/><circle cx="535.4" cy="262.1" r="7.15" fill="#2699e6"/><circle cx="530.3" cy="298.7" r="7.15" fill="#2db3f2"/><circle cx="528.1" cy="335.7" r="7.15" fill="#33ccff"/><text transform="translate(528.00,27.50) scale(1.000,1.070)" font-family="Liberation Serif" font-size="19" fill="#000" stroke="#000" stroke-width="0.15" text-anchor="middle">0</text><text transform="translate(584.70,27.50) scale(1.000,1.070)" font-family="Liberation Serif" font-size="19" fill="#000" stroke="#000" stroke-width="0.15" text-anchor="middle">1</text><text transform="translate(555.50,17.20) scale(1.000,1.000)" font-family="Liberation Serif" font-size="18.5" fill="#000" stroke="#000" stroke-width="0.15" text-anchor="middle">K</text><path d="M537.7 122.7V97" stroke="#000" stroke-width="2"/><path d="M537.7 89L533.8 101.5L537.7 99L541.6 101.5Z" fill="#000"/><text transform="translate(532.00,156.30) rotate(90) scale(1.000,1.070)" font-family="Liberation Serif" font-size="20" fill="#000" stroke="#000" stroke-width="0.10" text-anchor="middle">Noise</text><path d="M125.0 353.0v-6.2M125.0 0.9v6.2M220.0 353.0v-6.2M220.0 0.9v6.2M315.0 353.0v-6.2M315.0 0.9v6.2M410.0 353.0v-6.2M410.0 0.9v6.2M505.0 353.0v-6.2M505.0 0.9v6.2" stroke="#262626" stroke-width="1.8" fill="none"/><path d="M30 0V354" stroke="#5a5a5a" stroke-width="2" fill="none"/><path d="M600.5 0V354" stroke="#3c3c3c" stroke-width="1.9" fill="none"/><path d="M29 353.05H601.5" stroke="#464646" stroke-width="2.2" fill="none"/><path d="M29 0.75H601.5" stroke="#1e1e1e" stroke-width="1.5" fill="none"/><text transform="translate(125.50,379.10) scale(1.000,1.070)" font-family="Liberation Serif" font-size="28" fill="#262626" stroke="#262626" stroke-width="0.35" text-anchor="middle">-0.1</text><text transform="translate(220.00,379.10) scale(1.000,1.070)" font-family="Liberation Serif" font-size="28" fill="#262626" stroke="#262626" stroke-width="0.35" text-anchor="middle">-0.05</text><text transform="translate(315.50,379.10) scale(1.000,1.070)" font-family="Liberation Serif" font-size="28" fill="#262626" stroke="#262626" stroke-width="0.35" text-anchor="middle">0</text><text transform="translate(411.00,379.10) scale(1.000,1.070)" font-family="Liberation Serif" font-size="28" fill="#262626" stroke="#262626" stroke-width="0.35" text-anchor="middle">0.05</text><text transform="translate(506.80,379.10) scale(1.000,1.070)" font-family="Liberation Serif" font-size="28" fill="#262626" stroke="#262626" stroke-width="0.35" text-anchor="middle">0.1</text><text transform="translate(315.70,405.00) scale(1.020,1.070)" font-family="Liberation Serif" font-size="28" fill="#262626" stroke="#262626" stroke-width="0.35" text-anchor="middle">Frequency (Hz)</text><text transform="translate(20.30,177.20) rotate(-90) scale(1.013,1.050)" font-family="Liberation Serif" font-size="28" fill="#262626" stroke="#262626" stroke-width="0.35" text-anchor="middle">Intensity (arb.)</text><rect x="605.9" y="1.400" width="27.1" height="6.502" fill="#000099"/><rect x="605.9" y="6.902" width="27.1" height="6.502" fill="#01039b"/><rect x="605.9" y="12.403" width="27.1" height="6.502" fill="#02069c"/><rect x="605.9" y="17.905" width="27.1" height="6.502" fill="#020a9e"/><rect x="605.9" y="23.406" width="27.1" height="6.502" fill="#030d9f"/><rect x="605.9" y="28.908" width="27.1" height="6.502" fill="#0410a1"/><rect x="605.9" y="34.409" width="27.1" height="6.502" fill="#0513a3"/><rect x="605.9" y="39.911" width="27.1" height="6.502" fill="#0617a4"/><rect x="605.9" y="45.413" width="27.1" height="6.502" fill="#061aa6"/><rect x="605.9" y="50.914" width="27.1" height="6.502" fill="#071da8"/><rect x="605.9" y="56.416" width="27.1" height="6.502" fill="#0820a9"/><rect x="605.9" y="61.917" width="27.1" height="6.502" fill="#0924ab"/><rect x="605.9" y="67.419" width="27.1" height="6.502" fill="#0a27ac"/><rect x="605.9" y="72.920" width="27.1" height="6.502" fill="#0b2aae"/><rect x="605.9" y="78.422" width="27.1" height="6.502" fill="#0b2db0"/><rect x="605.9" y="83.923" width="27.1" height="6.502" fill="#0c31b1"/><rect x="605.9" y="89.425" width="27.1" height="6.502" fill="#0d34b3"/><rect x="605.9" y="94.927" width="27.1" height="6.502" fill="#0e37b5"/><rect x="605.9" y="100.428" width="27.1" height="6.502" fill="#0f3ab6"/><rect x="605.9" y="105.930" width="27.1" height="6.502" fill="#0f3eb8"/><rect x="605.9" y="111.431" width="27.1" height="6.502" fill="#1041b9"/><rect x="605.9" y="116.933" width="27.1" height="6.502" fill="#1144bb"/><rect x="605.9" y="122.434" width="27.1" height="6.502" fill="#1247bd"/><rect x="605.9" y="127.936" width="27.1" height="6.502" fill="#134abe"/><rect x="605.9" y="133.438" width="27.1" height="6.502" fill="#134ec0"/><rect x="605.9" y="138.939" width="27.1" height="6.502" fill="#1451c1"/><rect x="605.9" y="144.441" width="27.1" height="6.502" fill="#1554c3"/><rect x="605.9" y="149.942" width="27.1" height="6.502" fill="#1657c5"/><rect x="605.9" y="155.444" width="27.1" height="6.502" fill="#175bc6"/><rect x="605.9" y="160.945" width="27.1" height="6.502" fill="#175ec8"/><rect x="605.9" y="166.447" width="27.1" height="6.502" fill="#1861ca"/><rect x="605.9" y="171.948" width="27.1" height="6.502" fill="#1964cb"/><rect x="605.9" y="177.450" width="27.1" height="6.502" fill="#1a68cd"/><rect x="605.9" y="182.952" width="27.1" height="6.502" fill="#1b6bce"/><rect x="605.9" y="188.453" width="27.1" height="6.502" fill="#1c6ed0"/><rect x="605.9" y="193.955" width="27.1" height="6.502" fill="#1c71d2"/><rect x="605.9" y="199.456" width="27.1" height="6.502" fill="#1d75d3"/><rect x="605.9" y="204.958" width="27.1" height="6.502" fill="#1e78d5"/><rect x="605.9" y="210.459" width="27.1" height="6.502" fill="#1f7bd7"/><rect x="605.9" y="215.961" width="27.1" height="6.502" fill="#207ed8"/><rect x="605.9" y="221.463" width="27.1" height="6.502" fill="#2082da"/><rect x="605.9" y="226.964" width="27.1" height="6.502" fill="#2185db"/><rect x="605.9" y="232.466" width="27.1" height="6.502" fill="#2288dd"/><rect x="605.9" y="237.967" width="27.1" height="6.502" fill="#238bdf"/><rect x="605.9" y="243.469" width="27.1" height="6.502" fill="#248ee0"/><rect x="605.9" y="248.970" width="27.1" height="6.502" fill="#2492e2"/><rect x="605.9" y="254.472" width="27.1" height="6.502" fill="#2595e3"/><rect x="605.9" y="259.973" width="27.1" height="6.502" fill="#2698e5"/><rect x="605.9" y="265.475" width="27.1" height="6.502" fill="#279be7"/><rect x="605.9" y="270.977" width="27.1" height="6.502" fill="#289fe8"/><rect x="605.9" y="276.478" width="27.1" height="6.502" fill="#28a2ea"/><rect x="605.9" y="281.980" width="27.1" height="6.502" fill="#29a5ec"/><rect x="605.9" y="287.481" width="27.1" height="6.502" fill="#2aa8ed"/><rect x="605.9" y="292.983" width="27.1" height="6.502" fill="#2bacef"/><rect x="605.9" y="298.484" width="27.1" height="6.502" fill="#2caff0"/><rect x="605.9" y="303.986" width="27.1" height="6.502" fill="#2db2f2"/><rect x="605.9" y="309.488" width="27.1" height="6.502" fill="#2db5f4"/><rect x="605.9" y="314.989" width="27.1" height="6.502" fill="#2eb9f5"/><rect x="605.9" y="320.491" width="27.1" height="6.502" fill="#2fbcf7"/><rect x="605.9" y="325.992" width="27.1" height="6.502" fill="#30bff9"/><rect x="605.9" y="331.494" width="27.1" height="6.502" fill="#31c2fa"/><rect x="605.9" y="336.995" width="27.1" height="6.502" fill="#31c6fc"/><rect x="605.9" y="342.497" width="27.1" height="6.502" fill="#32c9fd"/><rect x="605.9" y="347.998" width="27.1" height="6.502" fill="#33ccff"/><path d="M633.0 35.9h-4.2M633.0 71.3h-4.2M633.0 106.6h-4.2M633.0 141.9h-4.2M633.0 177.2h-4.2M633.0 212.6h-4.2M633.0 247.9h-4.2M633.0 283.2h-4.2M633.0 318.6h-4.2" stroke="#262626" stroke-width="1.3" fill="none"/><path d="M605.9 0V354M633.0 0V354" stroke="#363636" stroke-width="1.8" fill="none"/><path d="M605.0 0.75H633.9" stroke="#1e1e1e" stroke-width="1.5" fill="none"/><path d="M605.0 353.05H633.9" stroke="#464646" stroke-width="2.0" fill="none"/><text transform="translate(636.50,20.10) scale(1.000,1.070)" font-family="Liberation Serif" font-size="28" fill="#000" stroke="#000" stroke-width="0.45" text-anchor="start">0.12</text><text transform="translate(636.60,353.90) scale(1.000,1.070)" font-family="Liberation Serif" font-size="28" fill="#000" stroke="#000" stroke-width="0.45" text-anchor="start">0</text><text transform="translate(661.30,175.90) rotate(90) scale(1.015,1.080)" font-family="Liberation Serif" font-size="28" fill="#000" stroke="#000" stroke-width="0.35" text-anchor="middle">Noise (nT)</text></svg></body></html>
